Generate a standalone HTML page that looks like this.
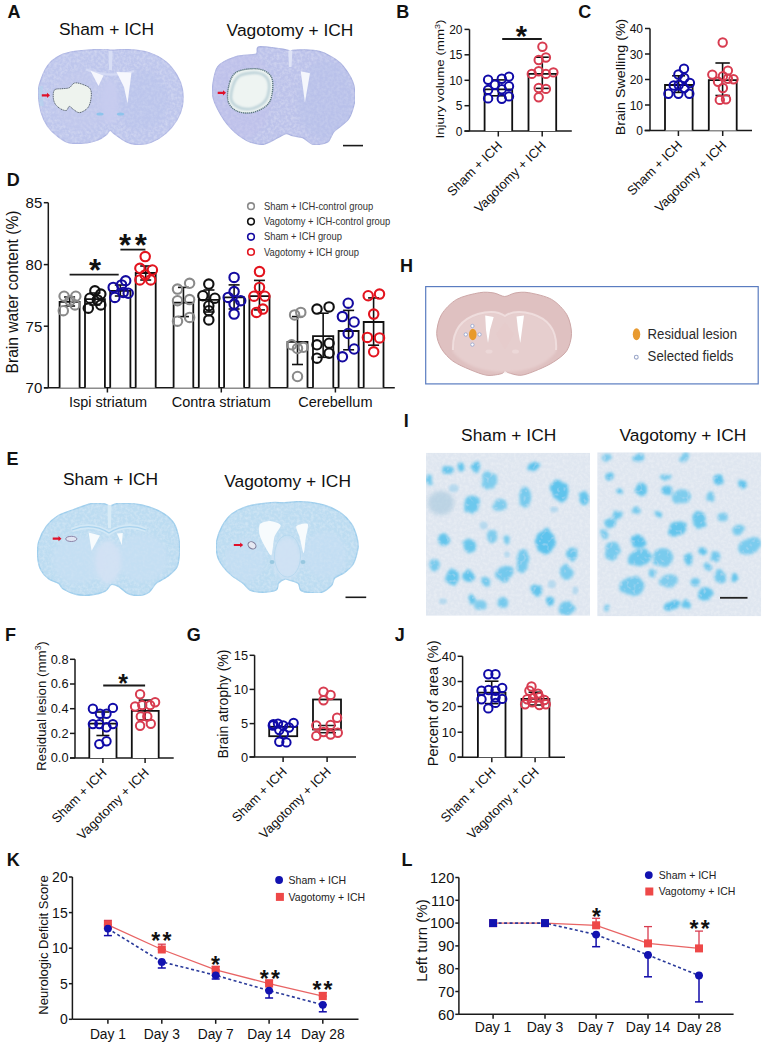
<!DOCTYPE html><html><head><meta charset="utf-8"><style>html,body{margin:0;padding:0;background:#fff;}svg{display:block;font-family:"Liberation Sans",sans-serif;}</style></head><body>
<svg width="769" height="1048" viewBox="0 0 769 1048">
<defs>
<filter id="tex" x="0" y="0" width="100%" height="100%"><feTurbulence type="fractalNoise" baseFrequency="0.35" numOctaves="2" seed="3" result="n"/><feColorMatrix in="n" type="matrix" values="0 0 0 0 1  0 0 0 0 1  0 0 0 0 1  0 0 0 -0.5 0.32" result="w"/><feComposite in="w" in2="SourceGraphic" operator="in" result="wn"/><feMerge><feMergeNode in="SourceGraphic"/><feMergeNode in="wn"/></feMerge></filter>
<filter id="blur1"><feGaussianBlur stdDeviation="1.2"/></filter>
<filter id="blur2"><feGaussianBlur stdDeviation="2"/></filter>
<filter id="blob" x="-5%" y="-5%" width="110%" height="110%"><feTurbulence type="fractalNoise" baseFrequency="0.12" numOctaves="2" seed="7" result="t"/><feDisplacementMap in="SourceGraphic" in2="t" scale="5" xChannelSelector="R" yChannelSelector="G" result="d"/><feGaussianBlur in="d" stdDeviation="1.5" result="b"/><feTurbulence type="fractalNoise" baseFrequency="0.3" numOctaves="1" seed="11" result="n"/><feColorMatrix in="n" type="matrix" values="0 0 0 0 1  0 0 0 0 1  0 0 0 0 1  0 0 0 -0.8 0.36" result="w"/><feComposite in="w" in2="b" operator="in" result="wn"/><feMerge><feMergeNode in="b"/><feMergeNode in="wn"/></feMerge></filter>
</defs>
<text x="7.5" y="18.3" font-size="18" text-anchor="start" fill="#111" font-weight="bold" >A</text>
<text x="396.2" y="18.4" font-size="18" text-anchor="start" fill="#111" font-weight="bold" >B</text>
<text x="578.3" y="18.1" font-size="18" text-anchor="start" fill="#111" font-weight="bold" >C</text>
<text x="6.8" y="186" font-size="18" text-anchor="start" fill="#111" font-weight="bold" >D</text>
<text x="6.6" y="465" font-size="18" text-anchor="start" fill="#111" font-weight="bold" >E</text>
<text x="5" y="641" font-size="18" text-anchor="start" fill="#111" font-weight="bold" >F</text>
<text x="186.8" y="641" font-size="18" text-anchor="start" fill="#111" font-weight="bold" >G</text>
<text x="400" y="272.2" font-size="18" text-anchor="start" fill="#111" font-weight="bold" >H</text>
<text x="403.8" y="426.5" font-size="18" text-anchor="start" fill="#111" font-weight="bold" >I</text>
<text x="394.8" y="640.7" font-size="18" text-anchor="start" fill="#111" font-weight="bold" >J</text>
<text x="6.8" y="866.4" font-size="18" text-anchor="start" fill="#111" font-weight="bold" >K</text>
<text x="401.5" y="866" font-size="18" text-anchor="start" fill="#111" font-weight="bold" >L</text>
<text x="106.5" y="35" font-size="17.4" text-anchor="middle" fill="#111" font-weight="normal" >Sham + ICH</text>
<text x="290" y="36" font-size="17.4" text-anchor="middle" fill="#111" font-weight="normal" >Vagotomy + ICH</text>
<text x="110.5" y="485.3" font-size="17.4" text-anchor="middle" fill="#111" font-weight="normal" >Sham + ICH</text>
<text x="287.6" y="486.8" font-size="17.4" text-anchor="middle" fill="#111" font-weight="normal" >Vagotomy + ICH</text>
<text x="508.7" y="440.8" font-size="17.4" text-anchor="middle" fill="#111" font-weight="normal" >Sham + ICH</text>
<text x="682.9" y="440.8" font-size="17.4" text-anchor="middle" fill="#111" font-weight="normal" >Vagotomy + ICH</text>
<line x1="469.5" y1="29.4" x2="469.5" y2="131.1" stroke="#1a1a1a" stroke-width="1.5"/>
<line x1="464.5" y1="131.1" x2="469.5" y2="131.1" stroke="#1a1a1a" stroke-width="1.5"/>
<text transform="translate(462.5 135.7) scale(1 1.12)" font-size="12" text-anchor="end" fill="#111">0</text>
<line x1="464.5" y1="105.7" x2="469.5" y2="105.7" stroke="#1a1a1a" stroke-width="1.5"/>
<text transform="translate(462.5 110.3) scale(1 1.12)" font-size="12" text-anchor="end" fill="#111">5</text>
<line x1="464.5" y1="80.3" x2="469.5" y2="80.3" stroke="#1a1a1a" stroke-width="1.5"/>
<text transform="translate(462.5 84.89999999999999) scale(1 1.12)" font-size="12" text-anchor="end" fill="#111">10</text>
<line x1="464.5" y1="54.8" x2="469.5" y2="54.8" stroke="#1a1a1a" stroke-width="1.5"/>
<text transform="translate(462.5 59.4) scale(1 1.12)" font-size="12" text-anchor="end" fill="#111">15</text>
<line x1="464.5" y1="29.4" x2="469.5" y2="29.4" stroke="#1a1a1a" stroke-width="1.5"/>
<text transform="translate(462.5 34.0) scale(1 1.12)" font-size="12" text-anchor="end" fill="#111">20</text>
<line x1="464.5" y1="131.1" x2="571.8" y2="131.1" stroke="#1a1a1a" stroke-width="1.5"/>
<line x1="498.3" y1="131.1" x2="498.3" y2="136.5" stroke="#1a1a1a" stroke-width="1.5"/>
<line x1="542.2" y1="131.1" x2="542.2" y2="136.5" stroke="#1a1a1a" stroke-width="1.5"/>
<path d="M484.6 131.1 V89.3 H512.2 V131.1" fill="#fff" stroke="#111" stroke-width="1.8"/>
<path d="M528.5 131.1 V73.9 H556.2 V131.1" fill="#fff" stroke="#111" stroke-width="1.8"/>
<line x1="498.4" y1="79.9" x2="498.4" y2="95.8" stroke="#111" stroke-width="1.6"/>
<line x1="491.9" y1="79.9" x2="504.9" y2="79.9" stroke="#111" stroke-width="1.6"/>
<line x1="491.9" y1="95.8" x2="504.9" y2="95.8" stroke="#111" stroke-width="1.6"/>
<line x1="542.3" y1="57.2" x2="542.3" y2="88.4" stroke="#111" stroke-width="1.6"/>
<line x1="535.8" y1="57.2" x2="548.8" y2="57.2" stroke="#111" stroke-width="1.6"/>
<line x1="535.8" y1="88.4" x2="548.8" y2="88.4" stroke="#111" stroke-width="1.6"/>
<line x1="502.2" y1="39" x2="541.8" y2="39" stroke="#1a1a1a" stroke-width="1.8"/>
<text x="521.5" y="46.209999999999994" font-size="29" text-anchor="middle" fill="#111" font-weight="bold">*</text>
<circle cx="488.1" cy="79.7" r="4.2" fill="none" stroke="#100aa8" stroke-width="2.0"/>
<circle cx="488.1" cy="89.9" r="4.2" fill="none" stroke="#100aa8" stroke-width="2.0"/>
<circle cx="488.1" cy="98.4" r="4.2" fill="none" stroke="#100aa8" stroke-width="2.0"/>
<circle cx="494.9" cy="84.7" r="4.2" fill="none" stroke="#100aa8" stroke-width="2.0"/>
<circle cx="501.8" cy="78.7" r="4.2" fill="none" stroke="#100aa8" stroke-width="2.0"/>
<circle cx="501.8" cy="89.3" r="4.2" fill="none" stroke="#100aa8" stroke-width="2.0"/>
<circle cx="501.8" cy="98.7" r="4.2" fill="none" stroke="#100aa8" stroke-width="2.0"/>
<circle cx="509.0" cy="76.6" r="4.2" fill="none" stroke="#100aa8" stroke-width="2.0"/>
<circle cx="509.0" cy="86.2" r="4.2" fill="none" stroke="#100aa8" stroke-width="2.0"/>
<circle cx="509.0" cy="96.4" r="4.2" fill="none" stroke="#100aa8" stroke-width="2.0"/>
<circle cx="542.4" cy="46.8" r="4.2" fill="none" stroke="#d83c50" stroke-width="2.0"/>
<circle cx="538.7" cy="60" r="4.2" fill="none" stroke="#d83c50" stroke-width="2.0"/>
<circle cx="545.9" cy="57.5" r="4.2" fill="none" stroke="#d83c50" stroke-width="2.0"/>
<circle cx="531.8" cy="73.9" r="4.2" fill="none" stroke="#d83c50" stroke-width="2.0"/>
<circle cx="538.7" cy="71.2" r="4.2" fill="none" stroke="#d83c50" stroke-width="2.0"/>
<circle cx="545.9" cy="73.9" r="4.2" fill="none" stroke="#d83c50" stroke-width="2.0"/>
<circle cx="553.4" cy="72.4" r="4.2" fill="none" stroke="#d83c50" stroke-width="2.0"/>
<circle cx="538.7" cy="88" r="4.2" fill="none" stroke="#d83c50" stroke-width="2.0"/>
<circle cx="545.9" cy="88.9" r="4.2" fill="none" stroke="#d83c50" stroke-width="2.0"/>
<circle cx="538.7" cy="97.2" r="4.2" fill="none" stroke="#d83c50" stroke-width="2.0"/>
<text transform="translate(444.3 79) rotate(-90) scale(1.13 1)" font-size="11.8" text-anchor="middle" fill="#111">Injury volume (mm<tspan dy="-4.5" font-size="8">3</tspan><tspan dy="4.5">)</tspan></text>
<text x="502.8" y="146.6" font-size="13" text-anchor="end" fill="#111" transform="rotate(-45 502.8 146.6)">Sham + ICH</text>
<text x="546.7" y="146.6" font-size="13" text-anchor="end" fill="#111" transform="rotate(-45 546.7 146.6)">Vagotomy + ICH</text>
<line x1="650" y1="28.5" x2="650" y2="130.5" stroke="#1a1a1a" stroke-width="1.5"/>
<line x1="645" y1="130.5" x2="650" y2="130.5" stroke="#1a1a1a" stroke-width="1.5"/>
<text transform="translate(643 135.1) scale(1 1.12)" font-size="12" text-anchor="end" fill="#111">0</text>
<line x1="645" y1="105" x2="650" y2="105" stroke="#1a1a1a" stroke-width="1.5"/>
<text transform="translate(643 109.6) scale(1 1.12)" font-size="12" text-anchor="end" fill="#111">10</text>
<line x1="645" y1="79.5" x2="650" y2="79.5" stroke="#1a1a1a" stroke-width="1.5"/>
<text transform="translate(643 84.1) scale(1 1.12)" font-size="12" text-anchor="end" fill="#111">20</text>
<line x1="645" y1="54" x2="650" y2="54" stroke="#1a1a1a" stroke-width="1.5"/>
<text transform="translate(643 58.6) scale(1 1.12)" font-size="12" text-anchor="end" fill="#111">30</text>
<line x1="645" y1="28.5" x2="650" y2="28.5" stroke="#1a1a1a" stroke-width="1.5"/>
<text transform="translate(643 33.1) scale(1 1.12)" font-size="12" text-anchor="end" fill="#111">40</text>
<line x1="644.5" y1="130.5" x2="752" y2="130.5" stroke="#1a1a1a" stroke-width="1.5"/>
<line x1="678.4" y1="130.5" x2="678.4" y2="136" stroke="#1a1a1a" stroke-width="1.5"/>
<line x1="722.7" y1="130.5" x2="722.7" y2="136" stroke="#1a1a1a" stroke-width="1.5"/>
<path d="M665 130.5 V85 H692.6 V130.5" fill="#fff" stroke="#111" stroke-width="1.8"/>
<path d="M708.8 130.5 V80.2 H736.7 V130.5" fill="#fff" stroke="#111" stroke-width="1.8"/>
<line x1="678.6" y1="75.8" x2="678.6" y2="92.4" stroke="#111" stroke-width="1.6"/>
<line x1="672.1" y1="75.8" x2="685.1" y2="75.8" stroke="#111" stroke-width="1.6"/>
<line x1="672.1" y1="92.4" x2="685.1" y2="92.4" stroke="#111" stroke-width="1.6"/>
<line x1="722.6" y1="63" x2="722.6" y2="95.5" stroke="#111" stroke-width="1.6"/>
<line x1="715.4" y1="63" x2="729.8000000000001" y2="63" stroke="#111" stroke-width="1.6"/>
<line x1="715.4" y1="95.5" x2="729.8000000000001" y2="95.5" stroke="#111" stroke-width="1.6"/>
<circle cx="668.4" cy="93.7" r="4.2" fill="none" stroke="#100aa8" stroke-width="2.0"/>
<circle cx="678.4" cy="93.7" r="4.2" fill="none" stroke="#100aa8" stroke-width="2.0"/>
<circle cx="689.3" cy="93.7" r="4.2" fill="none" stroke="#100aa8" stroke-width="2.0"/>
<circle cx="673.7" cy="85.5" r="4.2" fill="none" stroke="#100aa8" stroke-width="2.0"/>
<circle cx="684.3" cy="78" r="4.2" fill="none" stroke="#100aa8" stroke-width="2.0"/>
<circle cx="678.4" cy="74.5" r="4.2" fill="none" stroke="#100aa8" stroke-width="2.0"/>
<circle cx="684" cy="68.7" r="4.2" fill="none" stroke="#100aa8" stroke-width="2.0"/>
<circle cx="689.9" cy="83" r="4.2" fill="none" stroke="#100aa8" stroke-width="2.0"/>
<circle cx="684.3" cy="88" r="4.2" fill="none" stroke="#100aa8" stroke-width="2.0"/>
<circle cx="678.7" cy="85" r="4.2" fill="none" stroke="#100aa8" stroke-width="2.0"/>
<circle cx="722.7" cy="42.5" r="4.2" fill="none" stroke="#d83c50" stroke-width="2.0"/>
<circle cx="712.3" cy="74.6" r="4.2" fill="none" stroke="#d83c50" stroke-width="2.0"/>
<circle cx="727.9" cy="70.6" r="4.2" fill="none" stroke="#d83c50" stroke-width="2.0"/>
<circle cx="722.9" cy="76.2" r="4.2" fill="none" stroke="#d83c50" stroke-width="2.0"/>
<circle cx="718" cy="81.8" r="4.2" fill="none" stroke="#d83c50" stroke-width="2.0"/>
<circle cx="733.5" cy="79.3" r="4.2" fill="none" stroke="#d83c50" stroke-width="2.0"/>
<circle cx="727.9" cy="78.7" r="4.2" fill="none" stroke="#d83c50" stroke-width="2.0"/>
<circle cx="722.9" cy="88" r="4.2" fill="none" stroke="#d83c50" stroke-width="2.0"/>
<circle cx="719.8" cy="99.9" r="4.2" fill="none" stroke="#d83c50" stroke-width="2.0"/>
<circle cx="726" cy="99.3" r="4.2" fill="none" stroke="#d83c50" stroke-width="2.0"/>
<text transform="translate(624.8 77) rotate(-90) scale(1.1 1)" font-size="13" text-anchor="middle" fill="#111">Brain Swelling (%)</text>
<text x="682.9" y="146.0" font-size="13" text-anchor="end" fill="#111" transform="rotate(-45 682.9 146.0)">Sham + ICH</text>
<text x="727.2" y="146.0" font-size="13" text-anchor="end" fill="#111" transform="rotate(-45 727.2 146.0)">Vagotomy + ICH</text>
<line x1="48.3" y1="202.7" x2="48.3" y2="387.8" stroke="#1a1a1a" stroke-width="1.5"/>
<line x1="43.8" y1="387.8" x2="48.3" y2="387.8" stroke="#1a1a1a" stroke-width="1.5"/>
<text x="42.3" y="393.1" font-size="15" text-anchor="end" fill="#111" font-weight="normal" >70</text>
<line x1="43.8" y1="326.2" x2="48.3" y2="326.2" stroke="#1a1a1a" stroke-width="1.5"/>
<text x="42.3" y="331.5" font-size="15" text-anchor="end" fill="#111" font-weight="normal" >75</text>
<line x1="43.8" y1="264.6" x2="48.3" y2="264.6" stroke="#1a1a1a" stroke-width="1.5"/>
<text x="42.3" y="269.90000000000003" font-size="15" text-anchor="end" fill="#111" font-weight="normal" >80</text>
<line x1="43.8" y1="202.7" x2="48.3" y2="202.7" stroke="#1a1a1a" stroke-width="1.5"/>
<text x="42.3" y="208.0" font-size="15" text-anchor="end" fill="#111" font-weight="normal" >85</text>
<line x1="44" y1="387.8" x2="394.8" y2="387.8" stroke="#1a1a1a" stroke-width="1.5"/>
<line x1="107.4" y1="387.8" x2="107.4" y2="392.5" stroke="#1a1a1a" stroke-width="1.5"/>
<line x1="221.3" y1="387.8" x2="221.3" y2="392.5" stroke="#1a1a1a" stroke-width="1.5"/>
<line x1="335.4" y1="387.8" x2="335.4" y2="392.5" stroke="#1a1a1a" stroke-width="1.5"/>
<path d="M59.6 387.8 V301.9 H79.6 V387.8" fill="#fff" stroke="#111" stroke-width="1.8"/>
<line x1="69.6" y1="297" x2="69.6" y2="306" stroke="#111" stroke-width="1.6"/>
<line x1="64.1" y1="297" x2="75.1" y2="297" stroke="#111" stroke-width="1.6"/>
<line x1="64.1" y1="306" x2="75.1" y2="306" stroke="#111" stroke-width="1.6"/>
<path d="M85 387.8 V299.1 H104.9 V387.8" fill="#fff" stroke="#111" stroke-width="1.8"/>
<line x1="94.95" y1="293" x2="94.95" y2="305" stroke="#111" stroke-width="1.6"/>
<line x1="89.45" y1="293" x2="100.45" y2="293" stroke="#111" stroke-width="1.6"/>
<line x1="89.45" y1="305" x2="100.45" y2="305" stroke="#111" stroke-width="1.6"/>
<path d="M110.2 387.8 V290.8 H130.4 V387.8" fill="#fff" stroke="#111" stroke-width="1.8"/>
<line x1="120.30000000000001" y1="285" x2="120.30000000000001" y2="296" stroke="#111" stroke-width="1.6"/>
<line x1="114.80000000000001" y1="285" x2="125.80000000000001" y2="285" stroke="#111" stroke-width="1.6"/>
<line x1="114.80000000000001" y1="296" x2="125.80000000000001" y2="296" stroke="#111" stroke-width="1.6"/>
<path d="M135.7 387.8 V273 H155.7 V387.8" fill="#fff" stroke="#111" stroke-width="1.8"/>
<line x1="145.7" y1="266" x2="145.7" y2="280" stroke="#111" stroke-width="1.6"/>
<line x1="140.2" y1="266" x2="151.2" y2="266" stroke="#111" stroke-width="1.6"/>
<line x1="140.2" y1="280" x2="151.2" y2="280" stroke="#111" stroke-width="1.6"/>
<path d="M173.6 387.8 V302.7 H193.3 V387.8" fill="#fff" stroke="#111" stroke-width="1.8"/>
<line x1="183.45" y1="287.4" x2="183.45" y2="316.6" stroke="#111" stroke-width="1.6"/>
<line x1="177.95" y1="287.4" x2="188.95" y2="287.4" stroke="#111" stroke-width="1.6"/>
<line x1="177.95" y1="316.6" x2="188.95" y2="316.6" stroke="#111" stroke-width="1.6"/>
<path d="M198.8 387.8 V299.9 H219.1 V387.8" fill="#fff" stroke="#111" stroke-width="1.8"/>
<line x1="208.95" y1="290" x2="208.95" y2="312" stroke="#111" stroke-width="1.6"/>
<line x1="203.45" y1="290" x2="214.45" y2="290" stroke="#111" stroke-width="1.6"/>
<line x1="203.45" y1="312" x2="214.45" y2="312" stroke="#111" stroke-width="1.6"/>
<path d="M224.1 387.8 V297.4 H244.1 V387.8" fill="#fff" stroke="#111" stroke-width="1.8"/>
<line x1="234.1" y1="284.9" x2="234.1" y2="309" stroke="#111" stroke-width="1.6"/>
<line x1="228.6" y1="284.9" x2="239.6" y2="284.9" stroke="#111" stroke-width="1.6"/>
<line x1="228.6" y1="309" x2="239.6" y2="309" stroke="#111" stroke-width="1.6"/>
<path d="M249.4 387.8 V296.2 H269.5 V387.8" fill="#fff" stroke="#111" stroke-width="1.8"/>
<line x1="259.45" y1="280.4" x2="259.45" y2="309.9" stroke="#111" stroke-width="1.6"/>
<line x1="253.95" y1="280.4" x2="264.95" y2="280.4" stroke="#111" stroke-width="1.6"/>
<line x1="253.95" y1="309.9" x2="264.95" y2="309.9" stroke="#111" stroke-width="1.6"/>
<path d="M287.5 387.8 V341.8 H307.5 V387.8" fill="#fff" stroke="#111" stroke-width="1.8"/>
<line x1="297.5" y1="316.6" x2="297.5" y2="364.5" stroke="#111" stroke-width="1.6"/>
<line x1="292.0" y1="316.6" x2="303.0" y2="316.6" stroke="#111" stroke-width="1.6"/>
<line x1="292.0" y1="364.5" x2="303.0" y2="364.5" stroke="#111" stroke-width="1.6"/>
<path d="M313 387.8 V336.2 H333.3 V387.8" fill="#fff" stroke="#111" stroke-width="1.8"/>
<line x1="323.15" y1="313.2" x2="323.15" y2="357.3" stroke="#111" stroke-width="1.6"/>
<line x1="317.65" y1="313.2" x2="328.65" y2="313.2" stroke="#111" stroke-width="1.6"/>
<line x1="317.65" y1="357.3" x2="328.65" y2="357.3" stroke="#111" stroke-width="1.6"/>
<path d="M338.6 387.8 V331 H358.6 V387.8" fill="#fff" stroke="#111" stroke-width="1.8"/>
<line x1="348.6" y1="310.4" x2="348.6" y2="349.8" stroke="#111" stroke-width="1.6"/>
<line x1="343.1" y1="310.4" x2="354.1" y2="310.4" stroke="#111" stroke-width="1.6"/>
<line x1="343.1" y1="349.8" x2="354.1" y2="349.8" stroke="#111" stroke-width="1.6"/>
<path d="M363.7 387.8 V322 H383.5 V387.8" fill="#fff" stroke="#111" stroke-width="1.8"/>
<line x1="373.6" y1="297.9" x2="373.6" y2="345.2" stroke="#111" stroke-width="1.6"/>
<line x1="368.1" y1="297.9" x2="379.1" y2="297.9" stroke="#111" stroke-width="1.6"/>
<line x1="368.1" y1="345.2" x2="379.1" y2="345.2" stroke="#111" stroke-width="1.6"/>
<circle cx="64.1" cy="296.2" r="4.7" fill="none" stroke="#8a8a8a" stroke-width="2.1"/>
<circle cx="75.8" cy="296.2" r="4.7" fill="none" stroke="#8a8a8a" stroke-width="2.1"/>
<circle cx="70" cy="300.7" r="4.7" fill="none" stroke="#8a8a8a" stroke-width="2.1"/>
<circle cx="75" cy="304.9" r="4.7" fill="none" stroke="#8a8a8a" stroke-width="2.1"/>
<circle cx="63.3" cy="310.7" r="4.7" fill="none" stroke="#8a8a8a" stroke-width="2.1"/>
<circle cx="94.9" cy="290.8" r="4.7" fill="none" stroke="#111" stroke-width="2.1"/>
<circle cx="100.8" cy="294.1" r="4.7" fill="none" stroke="#111" stroke-width="2.1"/>
<circle cx="89.9" cy="298.2" r="4.7" fill="none" stroke="#111" stroke-width="2.1"/>
<circle cx="97.4" cy="299.9" r="4.7" fill="none" stroke="#111" stroke-width="2.1"/>
<circle cx="88.3" cy="308.2" r="4.7" fill="none" stroke="#111" stroke-width="2.1"/>
<circle cx="100.8" cy="304.9" r="4.7" fill="none" stroke="#111" stroke-width="2.1"/>
<circle cx="125.7" cy="280.8" r="4.7" fill="none" stroke="#140aa0" stroke-width="2.1"/>
<circle cx="113.2" cy="287.4" r="4.7" fill="none" stroke="#140aa0" stroke-width="2.1"/>
<circle cx="121.6" cy="284.9" r="4.7" fill="none" stroke="#140aa0" stroke-width="2.1"/>
<circle cx="128.2" cy="293.2" r="4.7" fill="none" stroke="#140aa0" stroke-width="2.1"/>
<circle cx="114.9" cy="297.4" r="4.7" fill="none" stroke="#140aa0" stroke-width="2.1"/>
<circle cx="123.2" cy="292.4" r="4.7" fill="none" stroke="#140aa0" stroke-width="2.1"/>
<circle cx="145.2" cy="256.6" r="4.7" fill="none" stroke="#e3141e" stroke-width="2.1"/>
<circle cx="139.9" cy="268.3" r="4.7" fill="none" stroke="#e3141e" stroke-width="2.1"/>
<circle cx="152.4" cy="270" r="4.7" fill="none" stroke="#e3141e" stroke-width="2.1"/>
<circle cx="139.9" cy="279.9" r="4.7" fill="none" stroke="#e3141e" stroke-width="2.1"/>
<circle cx="150.7" cy="279.9" r="4.7" fill="none" stroke="#e3141e" stroke-width="2.1"/>
<circle cx="145.2" cy="274.9" r="4.7" fill="none" stroke="#e3141e" stroke-width="2.1"/>
<circle cx="177.5" cy="289.1" r="4.7" fill="none" stroke="#8a8a8a" stroke-width="2.1"/>
<circle cx="189.6" cy="283.3" r="4.7" fill="none" stroke="#8a8a8a" stroke-width="2.1"/>
<circle cx="177.5" cy="300.7" r="4.7" fill="none" stroke="#8a8a8a" stroke-width="2.1"/>
<circle cx="189.6" cy="299.6" r="4.7" fill="none" stroke="#8a8a8a" stroke-width="2.1"/>
<circle cx="177.5" cy="321.2" r="4.7" fill="none" stroke="#8a8a8a" stroke-width="2.1"/>
<circle cx="189.6" cy="317.4" r="4.7" fill="none" stroke="#8a8a8a" stroke-width="2.1"/>
<circle cx="208.8" cy="284.1" r="4.7" fill="none" stroke="#111" stroke-width="2.1"/>
<circle cx="202.9" cy="295.7" r="4.7" fill="none" stroke="#111" stroke-width="2.1"/>
<circle cx="214.9" cy="298.2" r="4.7" fill="none" stroke="#111" stroke-width="2.1"/>
<circle cx="208.8" cy="305.7" r="4.7" fill="none" stroke="#111" stroke-width="2.1"/>
<circle cx="208.8" cy="310.7" r="4.7" fill="none" stroke="#111" stroke-width="2.1"/>
<circle cx="208.8" cy="319.9" r="4.7" fill="none" stroke="#111" stroke-width="2.1"/>
<circle cx="234.1" cy="277.4" r="4.7" fill="none" stroke="#140aa0" stroke-width="2.1"/>
<circle cx="234.1" cy="291.6" r="4.7" fill="none" stroke="#140aa0" stroke-width="2.1"/>
<circle cx="228.2" cy="297.4" r="4.7" fill="none" stroke="#140aa0" stroke-width="2.1"/>
<circle cx="240.7" cy="300.7" r="4.7" fill="none" stroke="#140aa0" stroke-width="2.1"/>
<circle cx="234.1" cy="304.1" r="4.7" fill="none" stroke="#140aa0" stroke-width="2.1"/>
<circle cx="234.1" cy="314.1" r="4.7" fill="none" stroke="#140aa0" stroke-width="2.1"/>
<circle cx="259.5" cy="271.6" r="4.7" fill="none" stroke="#e3141e" stroke-width="2.1"/>
<circle cx="259.5" cy="287.4" r="4.7" fill="none" stroke="#e3141e" stroke-width="2.1"/>
<circle cx="254" cy="296.2" r="4.7" fill="none" stroke="#e3141e" stroke-width="2.1"/>
<circle cx="264.9" cy="296.2" r="4.7" fill="none" stroke="#e3141e" stroke-width="2.1"/>
<circle cx="262.9" cy="309.1" r="4.7" fill="none" stroke="#e3141e" stroke-width="2.1"/>
<circle cx="256.5" cy="312.4" r="4.7" fill="none" stroke="#e3141e" stroke-width="2.1"/>
<circle cx="294.6" cy="314.9" r="4.7" fill="none" stroke="#8a8a8a" stroke-width="2.1"/>
<circle cx="300.8" cy="312.4" r="4.7" fill="none" stroke="#8a8a8a" stroke-width="2.1"/>
<circle cx="291.7" cy="344.8" r="4.7" fill="none" stroke="#8a8a8a" stroke-width="2.1"/>
<circle cx="297.5" cy="348.5" r="4.7" fill="none" stroke="#8a8a8a" stroke-width="2.1"/>
<circle cx="303.3" cy="347.3" r="4.7" fill="none" stroke="#8a8a8a" stroke-width="2.1"/>
<circle cx="297.5" cy="376.5" r="4.7" fill="none" stroke="#8a8a8a" stroke-width="2.1"/>
<circle cx="317" cy="309.1" r="4.7" fill="none" stroke="#111" stroke-width="2.1"/>
<circle cx="329.1" cy="306.9" r="4.7" fill="none" stroke="#111" stroke-width="2.1"/>
<circle cx="317" cy="344.8" r="4.7" fill="none" stroke="#111" stroke-width="2.1"/>
<circle cx="329.1" cy="343.2" r="4.7" fill="none" stroke="#111" stroke-width="2.1"/>
<circle cx="329.1" cy="353.2" r="4.7" fill="none" stroke="#111" stroke-width="2.1"/>
<circle cx="317" cy="358.2" r="4.7" fill="none" stroke="#111" stroke-width="2.1"/>
<circle cx="348.2" cy="303.2" r="4.7" fill="none" stroke="#140aa0" stroke-width="2.1"/>
<circle cx="342.4" cy="316.6" r="4.7" fill="none" stroke="#140aa0" stroke-width="2.1"/>
<circle cx="354.1" cy="322" r="4.7" fill="none" stroke="#140aa0" stroke-width="2.1"/>
<circle cx="348.2" cy="333.5" r="4.7" fill="none" stroke="#140aa0" stroke-width="2.1"/>
<circle cx="354.1" cy="349" r="4.7" fill="none" stroke="#140aa0" stroke-width="2.1"/>
<circle cx="342.4" cy="356.8" r="4.7" fill="none" stroke="#140aa0" stroke-width="2.1"/>
<circle cx="368.2" cy="295.7" r="4.7" fill="none" stroke="#e3141e" stroke-width="2.1"/>
<circle cx="379.5" cy="294.1" r="4.7" fill="none" stroke="#e3141e" stroke-width="2.1"/>
<circle cx="373.7" cy="314.1" r="4.7" fill="none" stroke="#e3141e" stroke-width="2.1"/>
<circle cx="367.4" cy="337.4" r="4.7" fill="none" stroke="#e3141e" stroke-width="2.1"/>
<circle cx="379.5" cy="337.9" r="4.7" fill="none" stroke="#e3141e" stroke-width="2.1"/>
<circle cx="373.7" cy="351.8" r="4.7" fill="none" stroke="#e3141e" stroke-width="2.1"/>
<line x1="69.6" y1="274.6" x2="118.7" y2="274.6" stroke="#1a1a1a" stroke-width="1.8"/>
<text x="95" y="280.69" font-size="31" text-anchor="middle" fill="#111" font-weight="bold">*</text>
<line x1="120.4" y1="249.6" x2="145.4" y2="249.6" stroke="#1a1a1a" stroke-width="1.8"/>
<text x="125.1" y="255.58999999999997" font-size="31" text-anchor="middle" fill="#111" font-weight="bold">*</text>
<text x="140.7" y="255.58999999999997" font-size="31" text-anchor="middle" fill="#111" font-weight="bold">*</text>
<text x="17.8" y="292" font-size="15.6" text-anchor="middle" fill="#111" transform="rotate(-90 17.8 292)" >Brain water content (%)</text>
<text x="108" y="406.5" font-size="14.5" text-anchor="middle" fill="#111" font-weight="normal" >Ispi striatum</text>
<text x="221.3" y="406.5" font-size="14.5" text-anchor="middle" fill="#111" font-weight="normal" >Contra striatum</text>
<text x="335.4" y="406.5" font-size="14.5" text-anchor="middle" fill="#111" font-weight="normal" >Cerebellum</text>
<circle cx="251" cy="206.2" r="3.3" fill="none" stroke="#8a8a8a" stroke-width="1.6"/>
<text transform="translate(263.9 209.7) scale(1 1.13)" font-size="9.4" fill="#333">Sham + ICH-control group</text>
<circle cx="251" cy="221.6" r="3.3" fill="none" stroke="#111" stroke-width="1.6"/>
<text transform="translate(263.9 225.1) scale(1 1.13)" font-size="9.4" fill="#333">Vagotomy + ICH-control group</text>
<circle cx="251" cy="236.8" r="3.3" fill="none" stroke="#140aa0" stroke-width="1.6"/>
<text transform="translate(263.9 240.3) scale(1 1.13)" font-size="9.4" fill="#333">Sham + ICH group</text>
<circle cx="251" cy="252" r="3.3" fill="none" stroke="#e3141e" stroke-width="1.6"/>
<text transform="translate(263.9 255.5) scale(1 1.13)" font-size="9.4" fill="#333">Vagotomy + ICH group</text>
<line x1="75" y1="659.3" x2="75" y2="758" stroke="#1a1a1a" stroke-width="1.5"/>
<line x1="70" y1="758" x2="75" y2="758" stroke="#1a1a1a" stroke-width="1.5"/>
<text x="68.5" y="762.3" font-size="12.8" text-anchor="end" fill="#111" font-weight="normal" >0.0</text>
<line x1="70" y1="733.4" x2="75" y2="733.4" stroke="#1a1a1a" stroke-width="1.5"/>
<text x="68.5" y="737.6999999999999" font-size="12.8" text-anchor="end" fill="#111" font-weight="normal" >0.2</text>
<line x1="70" y1="708.7" x2="75" y2="708.7" stroke="#1a1a1a" stroke-width="1.5"/>
<text x="68.5" y="713.0" font-size="12.8" text-anchor="end" fill="#111" font-weight="normal" >0.4</text>
<line x1="70" y1="684" x2="75" y2="684" stroke="#1a1a1a" stroke-width="1.5"/>
<text x="68.5" y="688.3" font-size="12.8" text-anchor="end" fill="#111" font-weight="normal" >0.6</text>
<line x1="70" y1="659.3" x2="75" y2="659.3" stroke="#1a1a1a" stroke-width="1.5"/>
<text x="68.5" y="663.5999999999999" font-size="12.8" text-anchor="end" fill="#111" font-weight="normal" >0.8</text>
<line x1="70" y1="758" x2="173.7" y2="758" stroke="#1a1a1a" stroke-width="1.5"/>
<line x1="102.9" y1="758" x2="102.9" y2="763" stroke="#1a1a1a" stroke-width="1.5"/>
<line x1="145.1" y1="758" x2="145.1" y2="763" stroke="#1a1a1a" stroke-width="1.5"/>
<path d="M89.3 758 V723.7 H116.5 V758" fill="#fff" stroke="#111" stroke-width="1.8"/>
<path d="M131.8 758 V710.8 H158.7 V758" fill="#fff" stroke="#111" stroke-width="1.8"/>
<line x1="102.9" y1="712" x2="102.9" y2="735.5" stroke="#111" stroke-width="1.6"/>
<line x1="96.4" y1="712" x2="109.4" y2="712" stroke="#111" stroke-width="1.6"/>
<line x1="96.4" y1="735.5" x2="109.4" y2="735.5" stroke="#111" stroke-width="1.6"/>
<line x1="145.2" y1="700.1" x2="145.2" y2="720" stroke="#111" stroke-width="1.6"/>
<line x1="138.7" y1="700.1" x2="151.7" y2="700.1" stroke="#111" stroke-width="1.6"/>
<line x1="138.7" y1="720" x2="151.7" y2="720" stroke="#111" stroke-width="1.6"/>
<circle cx="92.9" cy="708.7" r="4.2" fill="none" stroke="#100aa8" stroke-width="2.0"/>
<circle cx="112.9" cy="707.9" r="4.2" fill="none" stroke="#100aa8" stroke-width="2.0"/>
<circle cx="100" cy="713.7" r="4.2" fill="none" stroke="#100aa8" stroke-width="2.0"/>
<circle cx="106.5" cy="713.7" r="4.2" fill="none" stroke="#100aa8" stroke-width="2.0"/>
<circle cx="92.9" cy="724.1" r="4.2" fill="none" stroke="#100aa8" stroke-width="2.0"/>
<circle cx="99.3" cy="724.1" r="4.2" fill="none" stroke="#100aa8" stroke-width="2.0"/>
<circle cx="106.5" cy="727.3" r="4.2" fill="none" stroke="#100aa8" stroke-width="2.0"/>
<circle cx="112.9" cy="724.1" r="4.2" fill="none" stroke="#100aa8" stroke-width="2.0"/>
<circle cx="99.3" cy="744.1" r="4.2" fill="none" stroke="#100aa8" stroke-width="2.0"/>
<circle cx="106.5" cy="741.3" r="4.2" fill="none" stroke="#100aa8" stroke-width="2.0"/>
<circle cx="140.1" cy="694.3" r="4.2" fill="none" stroke="#d83c50" stroke-width="2.0"/>
<circle cx="135.1" cy="706.5" r="4.2" fill="none" stroke="#d83c50" stroke-width="2.0"/>
<circle cx="142.2" cy="705.1" r="4.2" fill="none" stroke="#d83c50" stroke-width="2.0"/>
<circle cx="155.1" cy="702.2" r="4.2" fill="none" stroke="#d83c50" stroke-width="2.0"/>
<circle cx="150.1" cy="705.1" r="4.2" fill="none" stroke="#d83c50" stroke-width="2.0"/>
<circle cx="140.8" cy="716.5" r="4.2" fill="none" stroke="#d83c50" stroke-width="2.0"/>
<circle cx="147.3" cy="716.5" r="4.2" fill="none" stroke="#d83c50" stroke-width="2.0"/>
<circle cx="140.1" cy="725.8" r="4.2" fill="none" stroke="#d83c50" stroke-width="2.0"/>
<circle cx="150.8" cy="723.7" r="4.2" fill="none" stroke="#d83c50" stroke-width="2.0"/>
<line x1="103.2" y1="685.5" x2="145.1" y2="685.5" stroke="#1a1a1a" stroke-width="1.8"/>
<text x="123.2" y="691.55" font-size="25" text-anchor="middle" fill="#111" font-weight="bold">*</text>
<text x="46.2" y="706" font-size="13.3" text-anchor="middle" fill="#111" transform="rotate(-90 46.2 706)" >Residual lesion (mm<tspan dy="-5" font-size="8.5">3</tspan><tspan dy="5">)</tspan></text>
<text x="107.4" y="773.5" font-size="13" text-anchor="end" fill="#111" transform="rotate(-45 107.4 773.5)">Sham + ICH</text>
<text x="149.6" y="773.5" font-size="13" text-anchor="end" fill="#111" transform="rotate(-45 149.6 773.5)">Vagotomy + ICH</text>
<line x1="254.6" y1="655.3" x2="254.6" y2="757" stroke="#1a1a1a" stroke-width="1.5"/>
<line x1="249.6" y1="757" x2="254.6" y2="757" stroke="#1a1a1a" stroke-width="1.5"/>
<text x="248.1" y="761.5" font-size="12.8" text-anchor="end" fill="#111" font-weight="normal" >0</text>
<line x1="249.6" y1="723.6" x2="254.6" y2="723.6" stroke="#1a1a1a" stroke-width="1.5"/>
<text x="248.1" y="728.1" font-size="12.8" text-anchor="end" fill="#111" font-weight="normal" >5</text>
<line x1="249.6" y1="689.4" x2="254.6" y2="689.4" stroke="#1a1a1a" stroke-width="1.5"/>
<text x="248.1" y="693.9" font-size="12.8" text-anchor="end" fill="#111" font-weight="normal" >10</text>
<line x1="249.6" y1="655.3" x2="254.6" y2="655.3" stroke="#1a1a1a" stroke-width="1.5"/>
<text x="248.1" y="659.8" font-size="12.8" text-anchor="end" fill="#111" font-weight="normal" >15</text>
<line x1="249.5" y1="757" x2="356" y2="757" stroke="#1a1a1a" stroke-width="1.5"/>
<line x1="283.1" y1="757" x2="283.1" y2="762" stroke="#1a1a1a" stroke-width="1.5"/>
<line x1="327.1" y1="757" x2="327.1" y2="762" stroke="#1a1a1a" stroke-width="1.5"/>
<rect x="269.2" y="726.8" width="28" height="9.4" fill="#fff" stroke="#111" stroke-width="1.8"/>
<rect x="313" y="699.5" width="28" height="30" fill="#fff" stroke="#111" stroke-width="1.8"/>
<line x1="318" y1="725.5" x2="336" y2="725.5" stroke="#1a1a1a" stroke-width="1.5"/>
<line x1="318" y1="732.7" x2="336" y2="732.7" stroke="#1a1a1a" stroke-width="1.5"/>
<circle cx="273.4" cy="724.2" r="4.2" fill="none" stroke="#100aa8" stroke-width="2.0"/>
<circle cx="278" cy="723.6" r="4.2" fill="none" stroke="#100aa8" stroke-width="2.0"/>
<circle cx="293.6" cy="722.9" r="4.2" fill="none" stroke="#100aa8" stroke-width="2.0"/>
<circle cx="283.2" cy="725.5" r="4.2" fill="none" stroke="#100aa8" stroke-width="2.0"/>
<circle cx="289" cy="727.5" r="4.2" fill="none" stroke="#100aa8" stroke-width="2.0"/>
<circle cx="279.3" cy="730" r="4.2" fill="none" stroke="#100aa8" stroke-width="2.0"/>
<circle cx="283.8" cy="734" r="4.2" fill="none" stroke="#100aa8" stroke-width="2.0"/>
<circle cx="279.3" cy="741.8" r="4.2" fill="none" stroke="#100aa8" stroke-width="2.0"/>
<circle cx="286.4" cy="742.4" r="4.2" fill="none" stroke="#100aa8" stroke-width="2.0"/>
<circle cx="272.8" cy="725.5" r="4.2" fill="none" stroke="#100aa8" stroke-width="2.0"/>
<circle cx="323.5" cy="691.7" r="4.2" fill="none" stroke="#d83c50" stroke-width="2.0"/>
<circle cx="330.6" cy="695" r="4.2" fill="none" stroke="#d83c50" stroke-width="2.0"/>
<circle cx="323.5" cy="700.2" r="4.2" fill="none" stroke="#d83c50" stroke-width="2.0"/>
<circle cx="337.1" cy="717.7" r="4.2" fill="none" stroke="#d83c50" stroke-width="2.0"/>
<circle cx="316.3" cy="725.5" r="4.2" fill="none" stroke="#d83c50" stroke-width="2.0"/>
<circle cx="330.6" cy="724.9" r="4.2" fill="none" stroke="#d83c50" stroke-width="2.0"/>
<circle cx="323.5" cy="732" r="4.2" fill="none" stroke="#d83c50" stroke-width="2.0"/>
<circle cx="330.6" cy="734.6" r="4.2" fill="none" stroke="#d83c50" stroke-width="2.0"/>
<circle cx="316.3" cy="735.9" r="4.2" fill="none" stroke="#d83c50" stroke-width="2.0"/>
<circle cx="337.8" cy="732.7" r="4.2" fill="none" stroke="#d83c50" stroke-width="2.0"/>
<text x="228.2" y="704" font-size="14" text-anchor="middle" fill="#111" transform="rotate(-90 228.2 704)" >Brain atrophy (%)</text>
<text x="287.6" y="772.5" font-size="13" text-anchor="end" fill="#111" transform="rotate(-45 287.6 772.5)">Sham + ICH</text>
<text x="331.6" y="772.5" font-size="13" text-anchor="end" fill="#111" transform="rotate(-45 331.6 772.5)">Vagotomy + ICH</text>
<line x1="462.6" y1="656.3" x2="462.6" y2="757.3" stroke="#1a1a1a" stroke-width="1.5"/>
<line x1="457.6" y1="757.3" x2="462.6" y2="757.3" stroke="#1a1a1a" stroke-width="1.5"/>
<text x="456.1" y="761.8" font-size="12.8" text-anchor="end" fill="#111" font-weight="normal" >0</text>
<line x1="457.6" y1="732.2" x2="462.6" y2="732.2" stroke="#1a1a1a" stroke-width="1.5"/>
<text x="456.1" y="736.7" font-size="12.8" text-anchor="end" fill="#111" font-weight="normal" >10</text>
<line x1="457.6" y1="706.5" x2="462.6" y2="706.5" stroke="#1a1a1a" stroke-width="1.5"/>
<text x="456.1" y="711.0" font-size="12.8" text-anchor="end" fill="#111" font-weight="normal" >20</text>
<line x1="457.6" y1="681.5" x2="462.6" y2="681.5" stroke="#1a1a1a" stroke-width="1.5"/>
<text x="456.1" y="686.0" font-size="12.8" text-anchor="end" fill="#111" font-weight="normal" >30</text>
<line x1="457.6" y1="656.3" x2="462.6" y2="656.3" stroke="#1a1a1a" stroke-width="1.5"/>
<text x="456.1" y="660.8" font-size="12.8" text-anchor="end" fill="#111" font-weight="normal" >40</text>
<line x1="457.5" y1="757.3" x2="565" y2="757.3" stroke="#1a1a1a" stroke-width="1.5"/>
<line x1="491.8" y1="757.3" x2="491.8" y2="762.3" stroke="#1a1a1a" stroke-width="1.5"/>
<line x1="535.1" y1="757.3" x2="535.1" y2="762.3" stroke="#1a1a1a" stroke-width="1.5"/>
<path d="M477.9 757.3 V692.6 H505.5 V757.3" fill="#fff" stroke="#111" stroke-width="1.8"/>
<path d="M521.5 757.3 V698.9 H549.4 V757.3" fill="#fff" stroke="#111" stroke-width="1.8"/>
<line x1="491.7" y1="681.2" x2="491.7" y2="703.6" stroke="#111" stroke-width="1.6"/>
<line x1="484.9" y1="681.2" x2="498.5" y2="681.2" stroke="#111" stroke-width="1.6"/>
<line x1="484.9" y1="703.6" x2="498.5" y2="703.6" stroke="#111" stroke-width="1.6"/>
<line x1="535.4" y1="692.2" x2="535.4" y2="705" stroke="#111" stroke-width="1.6"/>
<line x1="528.6" y1="692.2" x2="542.1999999999999" y2="692.2" stroke="#111" stroke-width="1.6"/>
<line x1="528.6" y1="705" x2="542.1999999999999" y2="705" stroke="#111" stroke-width="1.6"/>
<circle cx="488.3" cy="674.3" r="4.2" fill="none" stroke="#100aa8" stroke-width="2.0"/>
<circle cx="495.5" cy="674.3" r="4.2" fill="none" stroke="#100aa8" stroke-width="2.0"/>
<circle cx="481.5" cy="690.8" r="4.2" fill="none" stroke="#100aa8" stroke-width="2.0"/>
<circle cx="488.6" cy="690" r="4.2" fill="none" stroke="#100aa8" stroke-width="2.0"/>
<circle cx="495.5" cy="690.8" r="4.2" fill="none" stroke="#100aa8" stroke-width="2.0"/>
<circle cx="502.2" cy="687.9" r="4.2" fill="none" stroke="#100aa8" stroke-width="2.0"/>
<circle cx="481.5" cy="699.3" r="4.2" fill="none" stroke="#100aa8" stroke-width="2.0"/>
<circle cx="495.5" cy="697.5" r="4.2" fill="none" stroke="#100aa8" stroke-width="2.0"/>
<circle cx="502.2" cy="698.9" r="4.2" fill="none" stroke="#100aa8" stroke-width="2.0"/>
<circle cx="495.5" cy="702.9" r="4.2" fill="none" stroke="#100aa8" stroke-width="2.0"/>
<circle cx="488.3" cy="708.4" r="4.2" fill="none" stroke="#100aa8" stroke-width="2.0"/>
<circle cx="531.5" cy="686.5" r="4.2" fill="none" stroke="#d83c50" stroke-width="2.0"/>
<circle cx="529.4" cy="690.8" r="4.2" fill="none" stroke="#d83c50" stroke-width="2.0"/>
<circle cx="538" cy="693.6" r="4.2" fill="none" stroke="#d83c50" stroke-width="2.0"/>
<circle cx="527.2" cy="699.3" r="4.2" fill="none" stroke="#d83c50" stroke-width="2.0"/>
<circle cx="533" cy="697.9" r="4.2" fill="none" stroke="#d83c50" stroke-width="2.0"/>
<circle cx="539.4" cy="697.2" r="4.2" fill="none" stroke="#d83c50" stroke-width="2.0"/>
<circle cx="525.1" cy="704.3" r="4.2" fill="none" stroke="#d83c50" stroke-width="2.0"/>
<circle cx="532.2" cy="702.2" r="4.2" fill="none" stroke="#d83c50" stroke-width="2.0"/>
<circle cx="539.4" cy="705.1" r="4.2" fill="none" stroke="#d83c50" stroke-width="2.0"/>
<circle cx="545.8" cy="704.3" r="4.2" fill="none" stroke="#d83c50" stroke-width="2.0"/>
<circle cx="544.4" cy="700" r="4.2" fill="none" stroke="#d83c50" stroke-width="2.0"/>
<text x="438.3" y="703.3" font-size="14.5" text-anchor="middle" fill="#111" transform="rotate(-90 438.3 703.3)" >Percent of area (%)</text>
<text x="496.3" y="772.8" font-size="13" text-anchor="end" fill="#111" transform="rotate(-45 496.3 772.8)">Sham + ICH</text>
<text x="539.6" y="772.8" font-size="13" text-anchor="end" fill="#111" transform="rotate(-45 539.6 772.8)">Vagotomy + ICH</text>
<line x1="72.4" y1="877" x2="72.4" y2="1019.3" stroke="#1a1a1a" stroke-width="1.5"/>
<line x1="68.9" y1="1019.3" x2="72.4" y2="1019.3" stroke="#1a1a1a" stroke-width="1.5"/>
<text x="67.7" y="1024.3" font-size="14" text-anchor="end" fill="#111" font-weight="normal" >0</text>
<line x1="68.9" y1="983.7" x2="72.4" y2="983.7" stroke="#1a1a1a" stroke-width="1.5"/>
<text x="67.7" y="988.7" font-size="14" text-anchor="end" fill="#111" font-weight="normal" >5</text>
<line x1="68.9" y1="948.2" x2="72.4" y2="948.2" stroke="#1a1a1a" stroke-width="1.5"/>
<text x="67.7" y="953.2" font-size="14" text-anchor="end" fill="#111" font-weight="normal" >10</text>
<line x1="68.9" y1="912.6" x2="72.4" y2="912.6" stroke="#1a1a1a" stroke-width="1.5"/>
<text x="67.7" y="917.6" font-size="14" text-anchor="end" fill="#111" font-weight="normal" >15</text>
<line x1="68.9" y1="877" x2="72.4" y2="877" stroke="#1a1a1a" stroke-width="1.5"/>
<text x="67.7" y="882" font-size="14" text-anchor="end" fill="#111" font-weight="normal" >20</text>
<line x1="72.4" y1="1019.3" x2="358.5" y2="1019.3" stroke="#1a1a1a" stroke-width="1.5"/>
<line x1="107.9" y1="1019.3" x2="107.9" y2="1023.8" stroke="#1a1a1a" stroke-width="1.5"/>
<line x1="161.8" y1="1019.3" x2="161.8" y2="1023.8" stroke="#1a1a1a" stroke-width="1.5"/>
<line x1="215.7" y1="1019.3" x2="215.7" y2="1023.8" stroke="#1a1a1a" stroke-width="1.5"/>
<line x1="269.1" y1="1019.3" x2="269.1" y2="1023.8" stroke="#1a1a1a" stroke-width="1.5"/>
<line x1="322.8" y1="1019.3" x2="322.8" y2="1023.8" stroke="#1a1a1a" stroke-width="1.5"/>
<line x1="107.9" y1="920.4" x2="107.9" y2="924.9" stroke="#d83c50" stroke-width="1.3"/>
<line x1="103.9" y1="920.4" x2="111.9" y2="920.4" stroke="#d83c50" stroke-width="1.3"/>
<line x1="103.9" y1="924.9" x2="111.9" y2="924.9" stroke="#d83c50" stroke-width="1.3"/>
<line x1="107.9" y1="928.6" x2="107.9" y2="935.6" stroke="#100aa8" stroke-width="1.5"/>
<line x1="103.9" y1="928.6" x2="111.9" y2="928.6" stroke="#100aa8" stroke-width="1.5"/>
<line x1="103.9" y1="935.6" x2="111.9" y2="935.6" stroke="#100aa8" stroke-width="1.5"/>
<line x1="161.8" y1="944.2" x2="161.8" y2="949.5" stroke="#d83c50" stroke-width="1.3"/>
<line x1="157.8" y1="944.2" x2="165.8" y2="944.2" stroke="#d83c50" stroke-width="1.3"/>
<line x1="157.8" y1="949.5" x2="165.8" y2="949.5" stroke="#d83c50" stroke-width="1.3"/>
<line x1="161.8" y1="961.9" x2="161.8" y2="968" stroke="#100aa8" stroke-width="1.5"/>
<line x1="157.8" y1="961.9" x2="165.8" y2="961.9" stroke="#100aa8" stroke-width="1.5"/>
<line x1="157.8" y1="968" x2="165.8" y2="968" stroke="#100aa8" stroke-width="1.5"/>
<line x1="215.7" y1="966.5" x2="215.7" y2="969.8" stroke="#d83c50" stroke-width="1.3"/>
<line x1="211.7" y1="966.5" x2="219.7" y2="966.5" stroke="#d83c50" stroke-width="1.3"/>
<line x1="211.7" y1="969.8" x2="219.7" y2="969.8" stroke="#d83c50" stroke-width="1.3"/>
<line x1="215.7" y1="975.3" x2="215.7" y2="979" stroke="#100aa8" stroke-width="1.5"/>
<line x1="211.7" y1="975.3" x2="219.7" y2="975.3" stroke="#100aa8" stroke-width="1.5"/>
<line x1="211.7" y1="979" x2="219.7" y2="979" stroke="#100aa8" stroke-width="1.5"/>
<line x1="269.1" y1="980" x2="269.1" y2="983.6" stroke="#d83c50" stroke-width="1.3"/>
<line x1="265.1" y1="980" x2="273.1" y2="980" stroke="#d83c50" stroke-width="1.3"/>
<line x1="265.1" y1="983.6" x2="273.1" y2="983.6" stroke="#d83c50" stroke-width="1.3"/>
<line x1="269.1" y1="990.6" x2="269.1" y2="998" stroke="#100aa8" stroke-width="1.5"/>
<line x1="265.1" y1="990.6" x2="273.1" y2="990.6" stroke="#100aa8" stroke-width="1.5"/>
<line x1="265.1" y1="998" x2="273.1" y2="998" stroke="#100aa8" stroke-width="1.5"/>
<line x1="322.8" y1="992.5" x2="322.8" y2="996.1" stroke="#d83c50" stroke-width="1.3"/>
<line x1="318.8" y1="992.5" x2="326.8" y2="992.5" stroke="#d83c50" stroke-width="1.3"/>
<line x1="318.8" y1="996.1" x2="326.8" y2="996.1" stroke="#d83c50" stroke-width="1.3"/>
<line x1="322.8" y1="1004.8" x2="322.8" y2="1011.8" stroke="#100aa8" stroke-width="1.5"/>
<line x1="318.8" y1="1004.8" x2="326.8" y2="1004.8" stroke="#100aa8" stroke-width="1.5"/>
<line x1="318.8" y1="1011.8" x2="326.8" y2="1011.8" stroke="#100aa8" stroke-width="1.5"/>
<polyline points="107.9,924.9 161.8,949.5 215.7,969.8 269.1,983.6 322.8,996.1" fill="none" stroke="#e86464" stroke-width="1.3"/>
<polyline points="107.9,928.6 161.8,961.9 215.7,975.3 269.1,990.6 322.8,1004.8" fill="none" stroke="#2a3a9a" stroke-width="1.6" stroke-dasharray="3 2.5"/>
<rect x="103.9" y="920.9" width="8" height="8" fill="#ee4848"/>
<circle cx="107.9" cy="928.6" r="3.9" fill="#1212b0"/>
<rect x="157.8" y="945.5" width="8" height="8" fill="#ee4848"/>
<circle cx="161.8" cy="961.9" r="3.9" fill="#1212b0"/>
<rect x="211.7" y="965.8" width="8" height="8" fill="#ee4848"/>
<circle cx="215.7" cy="975.3" r="3.9" fill="#1212b0"/>
<rect x="265.1" y="979.6" width="8" height="8" fill="#ee4848"/>
<circle cx="269.1" cy="990.6" r="3.9" fill="#1212b0"/>
<rect x="318.8" y="992.1" width="8" height="8" fill="#ee4848"/>
<circle cx="322.8" cy="1004.8" r="3.9" fill="#1212b0"/>
<text x="155.70000000000002" y="949.37" font-size="23" text-anchor="middle" fill="#111" font-weight="bold">*</text>
<text x="166.9" y="949.37" font-size="23" text-anchor="middle" fill="#111" font-weight="bold">*</text>
<text x="215.6" y="973.27" font-size="23" text-anchor="middle" fill="#111" font-weight="bold">*</text>
<text x="264.29999999999995" y="986.87" font-size="23" text-anchor="middle" fill="#111" font-weight="bold">*</text>
<text x="275.5" y="986.87" font-size="23" text-anchor="middle" fill="#111" font-weight="bold">*</text>
<text x="316.9" y="998.17" font-size="23" text-anchor="middle" fill="#111" font-weight="bold">*</text>
<text x="328.1" y="998.17" font-size="23" text-anchor="middle" fill="#111" font-weight="bold">*</text>
<text x="48" y="945" font-size="13" text-anchor="middle" fill="#111" transform="rotate(-90 48 945)" >Neurologic Deficit Score</text>
<text x="107.9" y="1038.5" font-size="13.8" text-anchor="middle" fill="#111" font-weight="normal" >Day 1</text>
<text x="161.8" y="1038.5" font-size="13.8" text-anchor="middle" fill="#111" font-weight="normal" >Day 3</text>
<text x="215.7" y="1038.5" font-size="13.8" text-anchor="middle" fill="#111" font-weight="normal" >Day 7</text>
<text x="269.1" y="1038.5" font-size="13.8" text-anchor="middle" fill="#111" font-weight="normal" >Day 14</text>
<text x="322.8" y="1038.5" font-size="13.8" text-anchor="middle" fill="#111" font-weight="normal" >Day 28</text>
<circle cx="279.1" cy="880" r="3.9" fill="#1212b0"/>
<text x="288.6" y="883.8" font-size="10.5" text-anchor="start" fill="#222" font-weight="normal" >Sham + ICH</text>
<rect x="275.9" y="892.9" width="8" height="8" fill="#ee4848"/>
<text x="288.6" y="900.7" font-size="10.5" text-anchor="start" fill="#222" font-weight="normal" >Vagotomy + ICH</text>
<line x1="458.9" y1="877.5" x2="458.9" y2="1014.3" stroke="#1a1a1a" stroke-width="1.5"/>
<line x1="455.29999999999995" y1="1014.3" x2="458.9" y2="1014.3" stroke="#1a1a1a" stroke-width="1.5"/>
<text x="454.29999999999995" y="1019.5" font-size="14.6" text-anchor="end" fill="#111" font-weight="normal" >60</text>
<line x1="455.29999999999995" y1="991.5" x2="458.9" y2="991.5" stroke="#1a1a1a" stroke-width="1.5"/>
<text x="454.29999999999995" y="996.7" font-size="14.6" text-anchor="end" fill="#111" font-weight="normal" >70</text>
<line x1="455.29999999999995" y1="968.7" x2="458.9" y2="968.7" stroke="#1a1a1a" stroke-width="1.5"/>
<text x="454.29999999999995" y="973.9000000000001" font-size="14.6" text-anchor="end" fill="#111" font-weight="normal" >80</text>
<line x1="455.29999999999995" y1="945.9" x2="458.9" y2="945.9" stroke="#1a1a1a" stroke-width="1.5"/>
<text x="454.29999999999995" y="951.1" font-size="14.6" text-anchor="end" fill="#111" font-weight="normal" >90</text>
<line x1="455.29999999999995" y1="923.1" x2="458.9" y2="923.1" stroke="#1a1a1a" stroke-width="1.5"/>
<text x="454.29999999999995" y="928.3000000000001" font-size="14.6" text-anchor="end" fill="#111" font-weight="normal" >100</text>
<line x1="455.29999999999995" y1="900.3" x2="458.9" y2="900.3" stroke="#1a1a1a" stroke-width="1.5"/>
<text x="454.29999999999995" y="905.5" font-size="14.6" text-anchor="end" fill="#111" font-weight="normal" >110</text>
<line x1="455.29999999999995" y1="877.5" x2="458.9" y2="877.5" stroke="#1a1a1a" stroke-width="1.5"/>
<text x="454.29999999999995" y="882.7" font-size="14.6" text-anchor="end" fill="#111" font-weight="normal" >120</text>
<line x1="458.9" y1="1014.3" x2="733.6" y2="1014.3" stroke="#1a1a1a" stroke-width="1.5"/>
<line x1="493.1" y1="1014.3" x2="493.1" y2="1018.8" stroke="#1a1a1a" stroke-width="1.5"/>
<line x1="545" y1="1014.3" x2="545" y2="1018.8" stroke="#1a1a1a" stroke-width="1.5"/>
<line x1="596.1" y1="1014.3" x2="596.1" y2="1018.8" stroke="#1a1a1a" stroke-width="1.5"/>
<line x1="648" y1="1014.3" x2="648" y2="1018.8" stroke="#1a1a1a" stroke-width="1.5"/>
<line x1="699" y1="1014.3" x2="699" y2="1018.8" stroke="#1a1a1a" stroke-width="1.5"/>
<line x1="596.1" y1="918.3" x2="596.1" y2="925.3" stroke="#d83c50" stroke-width="1.3"/>
<line x1="592.1" y1="918.3" x2="600.1" y2="918.3" stroke="#d83c50" stroke-width="1.3"/>
<line x1="592.1" y1="925.3" x2="600.1" y2="925.3" stroke="#d83c50" stroke-width="1.3"/>
<line x1="596.1" y1="934.6" x2="596.1" y2="946.7" stroke="#100aa8" stroke-width="1.5"/>
<line x1="592.1" y1="934.6" x2="600.1" y2="934.6" stroke="#100aa8" stroke-width="1.5"/>
<line x1="592.1" y1="946.7" x2="600.1" y2="946.7" stroke="#100aa8" stroke-width="1.5"/>
<line x1="648" y1="926.6" x2="648" y2="943.4" stroke="#d83c50" stroke-width="1.3"/>
<line x1="644" y1="926.6" x2="652" y2="926.6" stroke="#d83c50" stroke-width="1.3"/>
<line x1="644" y1="943.4" x2="652" y2="943.4" stroke="#d83c50" stroke-width="1.3"/>
<line x1="648" y1="955" x2="648" y2="976.8" stroke="#100aa8" stroke-width="1.5"/>
<line x1="644" y1="955" x2="652" y2="955" stroke="#100aa8" stroke-width="1.5"/>
<line x1="644" y1="976.8" x2="652" y2="976.8" stroke="#100aa8" stroke-width="1.5"/>
<line x1="699" y1="931.1" x2="699" y2="948.4" stroke="#d83c50" stroke-width="1.3"/>
<line x1="695" y1="931.1" x2="703" y2="931.1" stroke="#d83c50" stroke-width="1.3"/>
<line x1="695" y1="948.4" x2="703" y2="948.4" stroke="#d83c50" stroke-width="1.3"/>
<line x1="699" y1="975.5" x2="699" y2="1001.9" stroke="#100aa8" stroke-width="1.5"/>
<line x1="695" y1="975.5" x2="703" y2="975.5" stroke="#100aa8" stroke-width="1.5"/>
<line x1="695" y1="1001.9" x2="703" y2="1001.9" stroke="#100aa8" stroke-width="1.5"/>
<polyline points="493.1,923.1 545,923.1 596.1,925.3 648,943.4 699,948.4" fill="none" stroke="#e86464" stroke-width="1.3"/>
<polyline points="493.1,923.1 545,923.1 596.1,934.6 648,955 699,975.5" fill="none" stroke="#2a3a9a" stroke-width="1.6" stroke-dasharray="3 2.5"/>
<rect x="489.1" y="919.1" width="8" height="8" fill="#ee4848"/>
<rect x="489.1" y="919.1" width="8" height="8" fill="#1212b0"/>
<rect x="541" y="919.1" width="8" height="8" fill="#ee4848"/>
<rect x="541" y="919.1" width="8" height="8" fill="#1212b0"/>
<rect x="592.1" y="921.3" width="8" height="8" fill="#ee4848"/>
<circle cx="596.1" cy="934.6" r="3.9" fill="#1212b0"/>
<rect x="644" y="939.4" width="8" height="8" fill="#ee4848"/>
<circle cx="648" cy="955" r="3.9" fill="#1212b0"/>
<rect x="695" y="944.4" width="8" height="8" fill="#ee4848"/>
<circle cx="699" cy="975.5" r="3.9" fill="#1212b0"/>
<text x="596.5" y="924.87" font-size="23" text-anchor="middle" fill="#111" font-weight="bold">*</text>
<text x="694" y="937.47" font-size="23" text-anchor="middle" fill="#111" font-weight="bold">*</text>
<text x="705.2" y="937.47" font-size="23" text-anchor="middle" fill="#111" font-weight="bold">*</text>
<text x="427" y="940.6" font-size="15" text-anchor="middle" fill="#111" transform="rotate(-90 427 940.6)" >Left turn (%)</text>
<text x="493.1" y="1032.3" font-size="14" text-anchor="middle" fill="#111" font-weight="normal" >Day 1</text>
<text x="545" y="1032.3" font-size="14" text-anchor="middle" fill="#111" font-weight="normal" >Day 3</text>
<text x="596.1" y="1032.3" font-size="14" text-anchor="middle" fill="#111" font-weight="normal" >Day 7</text>
<text x="648" y="1032.3" font-size="14" text-anchor="middle" fill="#111" font-weight="normal" >Day 14</text>
<text x="699" y="1032.3" font-size="14" text-anchor="middle" fill="#111" font-weight="normal" >Day 28</text>
<circle cx="648.8" cy="875.1" r="3.9" fill="#1212b0"/>
<text x="658.8" y="879" font-size="10.5" text-anchor="start" fill="#222" font-weight="normal" >Sham + ICH</text>
<rect x="645.3" y="887.5" width="8" height="8" fill="#ee4848"/>
<text x="658.8" y="895.3" font-size="10.5" text-anchor="start" fill="#222" font-weight="normal" >Vagotomy + ICH</text>
<rect x="425.7" y="286.6" width="332.5" height="97.3" fill="#fff" stroke="#5a7cc0" stroke-width="1.2"/>
<text transform="translate(647.6 338.6) scale(1 1.08)" font-size="13.2" fill="#2a2a2a">Residual lesion</text>
<text transform="translate(647.6 360.9) scale(1 1.08)" font-size="13.2" fill="#2a2a2a">Selected fields</text>
<ellipse cx="636.5" cy="334.2" rx="3.7" ry="6" fill="#e89a30"/>
<circle cx="636.3" cy="357.2" r="1.9" fill="none" stroke="#9aa6c8" stroke-width="1.1"/>
<clipPath id="ca1"><path d="M112.0 50.2 C116.1 50.2 120.9 49.0 127.1 49.4 C133.3 49.8 142.8 50.7 149.2 52.7 C155.6 54.7 161.2 57.9 165.8 61.6 C170.4 65.3 174.0 70.2 176.8 74.8 C179.6 79.4 181.5 84.0 182.4 89.2 C183.3 94.4 183.3 100.6 182.4 105.8 C181.5 111.0 179.6 115.6 176.8 120.2 C174.0 124.8 170.0 129.7 165.8 133.4 C161.6 137.1 156.0 140.5 151.4 142.3 C146.8 144.2 142.2 144.5 138.2 144.5 C134.1 144.5 131.2 144.2 127.1 142.3 C123.0 140.5 116.6 135.4 113.8 133.4 C111.0 131.4 111.3 130.2 110.0 130.5 C108.7 130.8 108.0 133.4 106.0 135.0 C104.0 136.6 101.2 138.7 98.0 140.0 C94.8 141.3 91.8 142.3 87.0 142.8 C82.2 143.3 74.1 143.9 69.3 142.8 C64.5 141.8 61.5 139.3 57.9 136.5 C54.3 133.7 50.3 130.1 47.5 126.1 C44.7 122.1 42.7 117.8 41.2 112.6 C39.7 107.4 38.6 99.8 38.3 95.0 C38.0 90.2 38.0 88.9 39.5 84.0 C41.0 79.1 44.1 70.5 47.5 65.8 C50.9 61.0 55.1 57.9 60.0 55.5 C64.8 53.1 69.5 52.2 76.6 51.2 C83.7 50.2 96.7 49.4 102.6 49.2 C108.5 49.0 107.9 50.2 112.0 50.2 Z"/></clipPath>
<path d="M112.0 50.2 C116.1 50.2 120.9 49.0 127.1 49.4 C133.3 49.8 142.8 50.7 149.2 52.7 C155.6 54.7 161.2 57.9 165.8 61.6 C170.4 65.3 174.0 70.2 176.8 74.8 C179.6 79.4 181.5 84.0 182.4 89.2 C183.3 94.4 183.3 100.6 182.4 105.8 C181.5 111.0 179.6 115.6 176.8 120.2 C174.0 124.8 170.0 129.7 165.8 133.4 C161.6 137.1 156.0 140.5 151.4 142.3 C146.8 144.2 142.2 144.5 138.2 144.5 C134.1 144.5 131.2 144.2 127.1 142.3 C123.0 140.5 116.6 135.4 113.8 133.4 C111.0 131.4 111.3 130.2 110.0 130.5 C108.7 130.8 108.0 133.4 106.0 135.0 C104.0 136.6 101.2 138.7 98.0 140.0 C94.8 141.3 91.8 142.3 87.0 142.8 C82.2 143.3 74.1 143.9 69.3 142.8 C64.5 141.8 61.5 139.3 57.9 136.5 C54.3 133.7 50.3 130.1 47.5 126.1 C44.7 122.1 42.7 117.8 41.2 112.6 C39.7 107.4 38.6 99.8 38.3 95.0 C38.0 90.2 38.0 88.9 39.5 84.0 C41.0 79.1 44.1 70.5 47.5 65.8 C50.9 61.0 55.1 57.9 60.0 55.5 C64.8 53.1 69.5 52.2 76.6 51.2 C83.7 50.2 96.7 49.4 102.6 49.2 C108.5 49.0 107.9 50.2 112.0 50.2 Z" fill="#bec6ec" stroke="#aeb6e4" stroke-width="1.2" filter="url(#tex)"/>
<g clip-path="url(#ca1)" filter="url(#blur2)">
<ellipse cx="82" cy="100" rx="30" ry="30" fill="#c4caee" opacity="0.5"/>
<ellipse cx="142" cy="100" rx="26" ry="30" fill="#bac4ea" opacity="0.4"/>
<ellipse cx="110" cy="102" rx="9" ry="22" fill="#c8ccef" opacity="0.9"/>
</g>
<path d="M108.5 51 L112.5 51 L112 70 L109 70Z" fill="#d8def5"/>
<path d="M86 69.5 Q111 79 134 71" fill="none" stroke="#d4daf4" stroke-width="2.2"/>
<path d="M90.5 70.8 L103.5 75.5 L98.5 86 Z" fill="#f6f7fd"/>
<path d="M116.5 72 L131.5 72.5 L127.5 103.6 L124 87 Z" fill="#f6f7fd"/>
<ellipse cx="100" cy="114" rx="3.6" ry="1.6" fill="#8ec4ec"/>
<ellipse cx="120.5" cy="114" rx="3.6" ry="1.6" fill="#8ec4ec"/>
<path d="M39 86 Q38 95 40 106 L44 106 Q42 95 43 86Z" fill="#b4d2ee" opacity="0.7"/>
<path d="M54.8 89.7 C56.3 88.5 59.6 89.0 62.0 88.7 C64.4 88.4 67.2 88.7 69.3 87.7 C71.4 86.8 72.2 83.5 74.5 83.0 C76.8 82.5 80.3 83.5 82.9 84.5 C85.5 85.5 88.7 86.6 90.1 88.7 C91.5 90.8 91.5 93.9 91.2 97.0 C90.9 100.1 90.0 104.8 88.1 107.4 C86.2 110.0 82.1 112.2 79.7 112.6 C77.3 112.9 75.2 110.5 73.5 109.5 C71.8 108.5 70.5 106.2 69.3 106.4 C68.1 106.6 67.8 110.2 66.2 110.5 C64.7 110.8 61.9 109.7 60.0 108.5 C58.1 107.3 55.9 105.4 54.8 103.3 C53.7 101.2 53.2 98.3 53.2 96.0 C53.2 93.7 53.3 90.9 54.8 89.7 Z" fill="#eef3ee" stroke="#4e5a66" stroke-width="0.9" stroke-dasharray="1.2 0.6"/>
<path d="M41.8 94.2 H47 V92.7 L50 95.3 L47 97.89999999999999 V96.39999999999999 H41.8Z" fill="#e0102a"/>
<clipPath id="ca2"><path d="M259.1 46.8 C263.4 46.3 284.0 48.9 288.2 50.4 C292.4 51.9 289.7 58.0 290.3 58.0 C290.9 58.0 288.5 51.3 292.4 50.4 C296.3 49.5 313.0 49.7 319.4 51.4 C325.8 53.1 335.8 58.9 340.2 62.9 C344.6 66.9 350.8 76.6 352.7 81.6 C354.6 86.6 355.3 95.3 354.8 100.3 C354.3 105.3 351.4 114.8 348.6 119.0 C345.8 123.2 336.8 128.5 334.0 131.6 C331.2 134.7 330.6 140.3 327.8 142.0 C325.0 143.7 316.5 145.1 313.2 144.5 C309.9 143.9 305.6 139.0 302.8 137.8 C300.0 136.6 294.6 136.3 292.4 135.7 C290.2 135.1 288.0 133.3 286.1 133.6 C284.2 133.9 280.8 136.4 277.8 137.8 C274.8 139.2 267.5 143.9 263.3 144.3 C259.1 144.7 251.0 142.8 246.6 140.5 C242.2 138.2 233.9 131.6 230.0 127.4 C226.1 123.2 219.9 113.4 217.5 108.7 C215.1 104.0 212.3 97.6 212.3 92.0 C212.3 86.4 214.3 71.7 217.5 67.0 C220.7 62.3 231.1 58.3 236.2 56.6 C241.3 54.9 252.9 55.3 256.0 54.0 C259.1 52.7 254.8 47.3 259.1 46.8 Z"/></clipPath>
<path d="M259.1 46.8 C263.4 46.3 284.0 48.9 288.2 50.4 C292.4 51.9 289.7 58.0 290.3 58.0 C290.9 58.0 288.5 51.3 292.4 50.4 C296.3 49.5 313.0 49.7 319.4 51.4 C325.8 53.1 335.8 58.9 340.2 62.9 C344.6 66.9 350.8 76.6 352.7 81.6 C354.6 86.6 355.3 95.3 354.8 100.3 C354.3 105.3 351.4 114.8 348.6 119.0 C345.8 123.2 336.8 128.5 334.0 131.6 C331.2 134.7 330.6 140.3 327.8 142.0 C325.0 143.7 316.5 145.1 313.2 144.5 C309.9 143.9 305.6 139.0 302.8 137.8 C300.0 136.6 294.6 136.3 292.4 135.7 C290.2 135.1 288.0 133.3 286.1 133.6 C284.2 133.9 280.8 136.4 277.8 137.8 C274.8 139.2 267.5 143.9 263.3 144.3 C259.1 144.7 251.0 142.8 246.6 140.5 C242.2 138.2 233.9 131.6 230.0 127.4 C226.1 123.2 219.9 113.4 217.5 108.7 C215.1 104.0 212.3 97.6 212.3 92.0 C212.3 86.4 214.3 71.7 217.5 67.0 C220.7 62.3 231.1 58.3 236.2 56.6 C241.3 54.9 252.9 55.3 256.0 54.0 C259.1 52.7 254.8 47.3 259.1 46.8 Z" fill="#bcc2ea" stroke="#a8b0e0" stroke-width="1.2" filter="url(#tex)"/>
<g clip-path="url(#ca2)" filter="url(#blur2)">
<ellipse cx="240" cy="95" rx="32" ry="45" fill="#c2c2ec" opacity="0.5"/>
<ellipse cx="325" cy="100" rx="28" ry="40" fill="#b6c0e8" opacity="0.45"/>
</g>
<path d="M288.2 50.4 L292.4 50.4 L291.5 67 L289 67Z" fill="#e0e4f6"/>
<path d="M300.7 71.2 L310 73.3 L304.9 102.4 L303 88 Z" fill="#f4f6fc"/>
<path d="M230.0 81.6 C231.7 76.8 233.5 73.3 238.3 71.2 C243.2 69.1 253.6 68.0 259.1 69.1 C264.7 70.1 269.5 73.0 271.6 77.5 C273.7 82.0 272.7 91.4 271.6 96.2 C270.6 101.0 268.8 103.8 265.3 106.6 C261.8 109.4 255.7 112.1 250.8 112.8 C246.0 113.5 240.0 112.8 236.2 110.7 C232.4 108.6 228.9 105.2 227.9 100.3 C226.9 95.4 228.3 86.4 230.0 81.6 Z" fill="#eef4f2" stroke="#5d7a80" stroke-width="1.4" stroke-dasharray="1.3 0.7"/>
<path d="M234.0 83.0 C235.7 79.0 237.0 76.7 241.0 75.0 C245.0 73.3 253.5 72.2 258.0 73.0 C262.5 73.8 266.3 76.3 268.0 80.0 C269.7 83.7 269.0 91.0 268.0 95.0 C267.0 99.0 265.0 101.7 262.0 104.0 C259.0 106.3 254.0 108.5 250.0 109.0 C246.0 109.5 241.2 108.7 238.0 107.0 C234.8 105.3 231.7 103.0 231.0 99.0 C230.3 95.0 232.3 87.0 234.0 83.0 Z" fill="none" stroke="#b4ccd4" stroke-width="2.2" filter="url(#blur1)"/>
<path d="M217.7 91.7 H223 V90.2 L226 92.8 L223 95.39999999999999 V93.89999999999999 H217.7Z" fill="#e0102a"/>
<line x1="343" y1="145.6" x2="363" y2="145.6" stroke="#1a1a1a" stroke-width="1.6"/>
<clipPath id="ce1"><path d="M110.0 506.0 C111.7 506.0 113.5 504.1 116.6 503.8 C119.7 503.5 128.8 503.3 133.2 503.8 C137.6 504.3 145.6 505.9 149.7 507.2 C153.8 508.5 160.8 511.6 164.1 513.8 C167.4 516.0 172.2 520.6 174.1 523.7 C176.0 526.8 177.8 533.5 178.5 537.0 C179.2 540.5 179.8 546.3 179.6 550.3 C179.4 554.3 178.6 563.5 177.0 567.0 C175.4 570.5 170.2 574.3 167.4 576.5 C164.6 578.7 158.5 581.4 156.0 583.5 C153.5 585.6 151.3 590.7 149.0 592.3 C146.7 593.9 141.6 595.5 138.7 595.6 C135.8 595.7 130.3 594.6 127.6 593.4 C124.9 592.2 121.0 587.9 118.8 586.7 C116.6 585.5 112.8 583.9 111.0 584.5 C109.2 585.1 107.9 589.8 105.2 591.2 C102.5 592.6 94.6 594.6 90.8 595.0 C87.0 595.4 80.1 595.3 76.4 594.5 C72.7 593.7 65.6 590.5 63.2 589.0 C60.8 587.5 60.6 584.7 58.7 583.4 C56.8 582.1 51.2 580.8 48.8 579.0 C46.4 577.2 42.5 573.1 41.0 570.2 C39.5 567.3 38.0 560.7 37.7 556.9 C37.4 553.1 37.6 545.5 38.8 541.4 C40.0 537.3 44.1 529.4 46.6 526.0 C49.1 522.6 53.9 518.2 57.6 516.0 C61.3 513.8 69.8 511.0 74.2 509.4 C78.6 507.8 86.8 504.5 90.8 503.8 C94.8 503.1 101.4 503.5 104.0 503.8 C106.6 504.1 108.3 506.0 110.0 506.0 Z"/></clipPath>
<path d="M110.0 506.0 C111.7 506.0 113.5 504.1 116.6 503.8 C119.7 503.5 128.8 503.3 133.2 503.8 C137.6 504.3 145.6 505.9 149.7 507.2 C153.8 508.5 160.8 511.6 164.1 513.8 C167.4 516.0 172.2 520.6 174.1 523.7 C176.0 526.8 177.8 533.5 178.5 537.0 C179.2 540.5 179.8 546.3 179.6 550.3 C179.4 554.3 178.6 563.5 177.0 567.0 C175.4 570.5 170.2 574.3 167.4 576.5 C164.6 578.7 158.5 581.4 156.0 583.5 C153.5 585.6 151.3 590.7 149.0 592.3 C146.7 593.9 141.6 595.5 138.7 595.6 C135.8 595.7 130.3 594.6 127.6 593.4 C124.9 592.2 121.0 587.9 118.8 586.7 C116.6 585.5 112.8 583.9 111.0 584.5 C109.2 585.1 107.9 589.8 105.2 591.2 C102.5 592.6 94.6 594.6 90.8 595.0 C87.0 595.4 80.1 595.3 76.4 594.5 C72.7 593.7 65.6 590.5 63.2 589.0 C60.8 587.5 60.6 584.7 58.7 583.4 C56.8 582.1 51.2 580.8 48.8 579.0 C46.4 577.2 42.5 573.1 41.0 570.2 C39.5 567.3 38.0 560.7 37.7 556.9 C37.4 553.1 37.6 545.5 38.8 541.4 C40.0 537.3 44.1 529.4 46.6 526.0 C49.1 522.6 53.9 518.2 57.6 516.0 C61.3 513.8 69.8 511.0 74.2 509.4 C78.6 507.8 86.8 504.5 90.8 503.8 C94.8 503.1 101.4 503.5 104.0 503.8 C106.6 504.1 108.3 506.0 110.0 506.0 Z" fill="#bcdcf1" stroke="#9ccdec" stroke-width="1.4" filter="url(#tex)"/>
<g clip-path="url(#ce1)" filter="url(#blur2)">
<ellipse cx="78" cy="560" rx="26" ry="24" fill="#c8e0f4" opacity="0.7"/>
<ellipse cx="142" cy="558" rx="26" ry="24" fill="#c8e0f4" opacity="0.7"/>
<ellipse cx="108" cy="562" rx="13" ry="22" fill="#d4e2f4" opacity="0.9"/>
</g>
<path d="M72 530 Q92 522 109 533 Q126 522 146 530" fill="none" stroke="#d2e8f6" stroke-width="4.5"/>
<path d="M72 530 Q92 522 109 533 Q126 522 146 530" fill="none" stroke="#a8d2ee" stroke-width="1.2"/>
<path d="M107.5 505 L111.5 505 L111 528 L108 528Z" fill="#d8ebf6"/>
<path d="M88.6 532.5 L100 535.5 L91.6 550.7 Z" fill="#f7fbfd"/>
<path d="M117 533.5 L122.8 533 L121.8 545 Z" fill="#f7fbfd"/>
<path d="M52.7 537.6 H58.5 V536.1 L61.5 538.7 L58.5 541.3000000000001 V539.8000000000001 H52.7Z" fill="#e0102a"/>
<ellipse cx="71.3" cy="538.9" rx="5.6" ry="2.6" fill="#dfe4f2" stroke="#8c84a8" stroke-width="1"/>
<clipPath id="ce2"><path d="M285.0 502.7 C289.1 502.6 296.4 501.3 301.6 501.6 C306.8 501.9 318.5 503.5 323.7 505.0 C328.9 506.5 336.6 510.2 340.3 512.7 C344.0 515.2 349.1 520.5 351.3 523.7 C353.5 526.9 355.9 533.8 356.8 537.0 C357.7 540.2 358.4 544.5 358.0 548.0 C357.6 551.5 355.3 560.2 353.5 563.5 C351.7 566.8 347.2 570.5 344.7 572.4 C342.2 574.3 336.5 576.1 334.7 577.9 C332.9 579.7 333.2 583.7 331.4 585.6 C329.6 587.5 324.7 591.4 321.5 592.3 C318.3 593.2 309.9 592.6 307.1 592.3 C304.3 592.0 301.7 591.2 300.5 590.0 C299.3 588.8 299.8 584.7 298.3 583.4 C296.8 582.1 291.2 580.7 289.4 580.1 C287.6 579.5 286.5 578.6 285.0 579.0 C283.5 579.4 279.7 581.9 278.5 583.4 C277.3 584.9 278.4 588.8 276.3 590.0 C274.2 591.2 266.5 592.3 263.0 592.3 C259.5 592.3 252.4 591.2 249.8 590.0 C247.2 588.8 245.6 585.3 243.2 583.4 C240.8 581.5 234.8 577.9 232.1 575.7 C229.4 573.5 225.2 569.3 223.3 566.8 C221.4 564.3 218.6 560.3 217.7 556.9 C216.8 553.5 216.0 545.5 216.6 541.4 C217.2 537.3 220.1 529.7 222.2 526.0 C224.3 522.3 228.6 516.5 232.1 513.8 C235.6 511.1 243.5 507.5 248.7 506.0 C253.9 504.5 266.0 503.1 270.8 502.7 C275.6 502.3 280.9 502.8 285.0 502.7 Z"/></clipPath>
<path d="M285.0 502.7 C289.1 502.6 296.4 501.3 301.6 501.6 C306.8 501.9 318.5 503.5 323.7 505.0 C328.9 506.5 336.6 510.2 340.3 512.7 C344.0 515.2 349.1 520.5 351.3 523.7 C353.5 526.9 355.9 533.8 356.8 537.0 C357.7 540.2 358.4 544.5 358.0 548.0 C357.6 551.5 355.3 560.2 353.5 563.5 C351.7 566.8 347.2 570.5 344.7 572.4 C342.2 574.3 336.5 576.1 334.7 577.9 C332.9 579.7 333.2 583.7 331.4 585.6 C329.6 587.5 324.7 591.4 321.5 592.3 C318.3 593.2 309.9 592.6 307.1 592.3 C304.3 592.0 301.7 591.2 300.5 590.0 C299.3 588.8 299.8 584.7 298.3 583.4 C296.8 582.1 291.2 580.7 289.4 580.1 C287.6 579.5 286.5 578.6 285.0 579.0 C283.5 579.4 279.7 581.9 278.5 583.4 C277.3 584.9 278.4 588.8 276.3 590.0 C274.2 591.2 266.5 592.3 263.0 592.3 C259.5 592.3 252.4 591.2 249.8 590.0 C247.2 588.8 245.6 585.3 243.2 583.4 C240.8 581.5 234.8 577.9 232.1 575.7 C229.4 573.5 225.2 569.3 223.3 566.8 C221.4 564.3 218.6 560.3 217.7 556.9 C216.8 553.5 216.0 545.5 216.6 541.4 C217.2 537.3 220.1 529.7 222.2 526.0 C224.3 522.3 228.6 516.5 232.1 513.8 C235.6 511.1 243.5 507.5 248.7 506.0 C253.9 504.5 266.0 503.1 270.8 502.7 C275.6 502.3 280.9 502.8 285.0 502.7 Z" fill="#bcdcf1" stroke="#9ccdec" stroke-width="1.4" filter="url(#tex)"/>
<g clip-path="url(#ce2)" filter="url(#blur2)">
<ellipse cx="287" cy="558" rx="14" ry="21" fill="#d0e2f4" opacity="0.9"/>
<ellipse cx="245" cy="560" rx="20" ry="22" fill="#c8e0f4" opacity="0.6"/>
<ellipse cx="325" cy="555" rx="22" ry="24" fill="#c8e0f4" opacity="0.6"/>
</g>
<path d="M260.0 524.0 C261.3 522.4 267.9 520.9 270.3 521.0 C272.7 521.1 280.2 523.4 280.7 525.2 C281.2 527.0 275.6 533.1 274.5 536.6 C273.4 540.1 272.6 554.3 271.4 555.3 C270.2 556.3 265.5 547.3 264.1 544.9 C262.7 542.5 260.0 536.9 259.5 534.5 C259.0 532.1 258.7 525.6 260.0 524.0 Z" fill="#f7fbfd"/>
<path d="M296.3 526.2 C297.3 524.7 306.7 522.6 307.8 524.1 C308.9 525.6 306.2 535.3 305.7 538.7 C305.2 542.1 304.3 553.5 303.6 553.3 C302.9 553.1 300.4 539.8 299.5 536.6 C298.6 533.4 295.3 527.7 296.3 526.2 Z" fill="#f7fbfd"/>
<ellipse cx="287.5" cy="556" rx="13" ry="21" fill="none" stroke="#b0d6ee" stroke-width="1" opacity="0.7"/>
<ellipse cx="272" cy="562" rx="2.5" ry="2" fill="#98c8e0"/><ellipse cx="303" cy="562" rx="2.5" ry="2" fill="#98c8e0"/>
<path d="M233.8 543.9 H240.2 V542.4 L243.2 545 L240.2 547.6 V546.1 H233.8Z" fill="#e0102a"/>
<ellipse cx="252" cy="545.3" rx="4.2" ry="3.3" transform="rotate(35 252 545.3)" fill="#e6e8f2" stroke="#7c7a98" stroke-width="1"/>
<line x1="345.5" y1="597.3" x2="366.2" y2="597.3" stroke="#1a1a1a" stroke-width="1.6"/>
<path d="M504.7 296.5 C507.8 296.5 511.4 293.6 515.0 293.0 C518.6 292.4 523.3 291.7 528.8 292.7 C534.3 293.7 545.9 296.1 551.6 299.4 C557.3 302.7 563.8 309.5 566.8 314.6 C569.8 319.7 571.5 328.2 571.5 333.6 C571.5 339.0 569.5 346.4 566.8 350.7 C564.1 355.0 557.8 359.2 553.5 362.0 C549.2 364.8 543.1 367.6 538.3 369.6 C533.5 371.6 525.7 374.9 521.2 375.3 C516.7 375.7 510.5 373.4 508.0 372.5 C505.5 371.6 505.4 369.4 504.5 369.5 C503.6 369.6 504.8 372.5 502.2 373.4 C499.6 374.3 491.9 375.9 487.1 375.3 C482.3 374.7 475.1 371.7 470.0 369.6 C464.9 367.5 457.2 364.2 452.9 361.1 C448.6 358.0 443.9 352.9 441.5 348.8 C439.1 344.7 436.7 338.7 436.7 333.6 C436.7 328.5 438.5 319.7 441.5 314.6 C444.5 309.5 451.0 302.7 456.7 299.4 C462.4 296.1 473.9 293.7 479.5 292.7 C485.1 291.7 490.2 292.4 494.0 293.0 C497.8 293.6 501.6 296.5 504.7 296.5 Z" fill="#dfc1c1" stroke="#cda7a7" stroke-width="1"/>
<path d="M453 352 Q452 322 478 314 Q495 309 505 316 Q515 309 532 314 Q558 322 556 352 Q540 372 505 372 Q470 372 453 352Z" fill="#e6cece" filter="url(#blur1)"/>
<path d="M453 350 Q452 322 478 314 Q495 309 505 316 Q515 309 532 314 Q558 322 556 350" fill="none" stroke="#efdddd" stroke-width="2"/>
<path d="M505 322 L514 334 L505 350 L496 334Z" fill="#e6cccc"/>
<path d="M485.2 315.5 L493.7 317 L490 330 L488 343 L486 330Z" fill="#fff"/>
<path d="M516.5 316.5 L524 315.5 L522 330 L520.3 343 L518 330Z" fill="#fff"/>
<ellipse cx="489" cy="351.6" rx="3.5" ry="2" fill="#ecd8d8"/>
<ellipse cx="515.5" cy="351.6" rx="3.5" ry="2" fill="#ecd8d8"/>
<ellipse cx="472.8" cy="334.5" rx="3.8" ry="5.7" fill="#e89a2a"/>
<circle cx="472.4" cy="326" r="1.7" fill="#fff" stroke="#9aa8d0" stroke-width="0.9"/>
<circle cx="465.8" cy="334.5" r="1.7" fill="#fff" stroke="#9aa8d0" stroke-width="0.9"/>
<circle cx="479.5" cy="334.5" r="1.7" fill="#fff" stroke="#9aa8d0" stroke-width="0.9"/>
<circle cx="472.4" cy="344.6" r="1.7" fill="#fff" stroke="#9aa8d0" stroke-width="0.9"/>
<clipPath id="c1"><rect x="426" y="452.8" width="164" height="163"/></clipPath><clipPath id="c2"><rect x="597.2" y="452.3" width="164" height="164"/></clipPath>
<g clip-path="url(#c1)"><rect x="426" y="452.8" width="164" height="163" fill="#dfe6f0" filter="url(#tex)"/>
<g filter="url(#blob)">
<ellipse cx="448.4" cy="470.1" rx="5.3" ry="3.8" transform="rotate(-3 448.4 470.1)" fill="#5ac2ec" opacity="0.88"/>
<ellipse cx="461.2" cy="467.4" rx="4" ry="4" transform="rotate(3 461.2 467.4)" fill="#5ac2ec" opacity="0.92"/>
<ellipse cx="475.5" cy="466.9" rx="4.7" ry="6" transform="rotate(3 475.5 466.9)" fill="#5ac2ec" opacity="0.90"/>
<ellipse cx="488.9" cy="479.7" rx="7.5" ry="9" transform="rotate(-11 488.9 479.7)" fill="#5ac2ec" opacity="0.73"/>
<ellipse cx="533.7" cy="466.5" rx="6.4" ry="3.8" transform="rotate(-6 533.7 466.5)" fill="#5ac2ec" opacity="0.96"/>
<ellipse cx="559.9" cy="490.4" rx="8.5" ry="11.7" transform="rotate(-22 559.9 490.4)" fill="#5ac2ec" opacity="0.95"/>
<ellipse cx="429.2" cy="479.7" rx="3" ry="6" transform="rotate(-18 429.2 479.7)" fill="#5ac2ec" opacity="0.84"/>
<ellipse cx="471.9" cy="504.2" rx="8.5" ry="8.5" transform="rotate(-8 471.9 504.2)" fill="#5ac2ec" opacity="0.86"/>
<ellipse cx="499.6" cy="505.3" rx="7.5" ry="6.4" transform="rotate(-18 499.6 505.3)" fill="#5ac2ec" opacity="0.72"/>
<ellipse cx="525.2" cy="496.8" rx="6" ry="10.7" transform="rotate(2 525.2 496.8)" fill="#5ac2ec" opacity="0.79"/>
<ellipse cx="583.8" cy="497.9" rx="5.3" ry="6.4" transform="rotate(-20 583.8 497.9)" fill="#5ac2ec" opacity="0.91"/>
<ellipse cx="444.1" cy="539.4" rx="6.2" ry="6.2" transform="rotate(-21 444.1 539.4)" fill="#5ac2ec" opacity="0.92"/>
<ellipse cx="469.7" cy="545.8" rx="6.4" ry="7.5" transform="rotate(-21 469.7 545.8)" fill="#5ac2ec" opacity="0.87"/>
<ellipse cx="492.1" cy="536.2" rx="5.3" ry="7.5" transform="rotate(1 492.1 536.2)" fill="#5ac2ec" opacity="0.72"/>
<ellipse cx="507" cy="539.4" rx="3.2" ry="4.3" transform="rotate(-19 507 539.4)" fill="#5ac2ec" opacity="0.77"/>
<ellipse cx="545.4" cy="541.6" rx="9.6" ry="12.8" transform="rotate(1 545.4 541.6)" fill="#5ac2ec" opacity="0.97"/>
<ellipse cx="523" cy="560.8" rx="6.4" ry="11.7" transform="rotate(4 523 560.8)" fill="#5ac2ec" opacity="0.79"/>
<ellipse cx="572.1" cy="554.4" rx="5.3" ry="6.4" transform="rotate(-5 572.1 554.4)" fill="#5ac2ec" opacity="0.85"/>
<ellipse cx="434.5" cy="565" rx="5.3" ry="6.4" transform="rotate(3 434.5 565)" fill="#5ac2ec" opacity="0.77"/>
<ellipse cx="452.7" cy="576.8" rx="6.4" ry="8.5" transform="rotate(4 452.7 576.8)" fill="#5ac2ec" opacity="0.89"/>
<ellipse cx="468.7" cy="575.7" rx="5.3" ry="6.4" transform="rotate(-16 468.7 575.7)" fill="#5ac2ec" opacity="0.94"/>
<ellipse cx="504.9" cy="573.6" rx="9.6" ry="7.5" transform="rotate(-20 504.9 573.6)" fill="#5ac2ec" opacity="0.81"/>
<ellipse cx="566.8" cy="571.4" rx="6" ry="8.1" transform="rotate(-23 566.8 571.4)" fill="#5ac2ec" opacity="0.76"/>
<ellipse cx="485.7" cy="582.1" rx="4.7" ry="5.3" transform="rotate(-7 485.7 582.1)" fill="#5ac2ec" opacity="0.80"/>
<ellipse cx="480.4" cy="605.5" rx="6.4" ry="5.3" transform="rotate(-5 480.4 605.5)" fill="#5ac2ec" opacity="0.72"/>
<ellipse cx="502.8" cy="602.4" rx="5.3" ry="5.3" transform="rotate(-16 502.8 602.4)" fill="#5ac2ec" opacity="0.80"/>
<ellipse cx="536.9" cy="590.6" rx="6.4" ry="6.4" transform="rotate(-11 536.9 590.6)" fill="#5ac2ec" opacity="0.92"/>
<ellipse cx="566.8" cy="608.7" rx="8.5" ry="6.4" transform="rotate(-11 566.8 608.7)" fill="#5ac2ec" opacity="0.80"/>
<ellipse cx="471.9" cy="599.2" rx="4.3" ry="4.3" transform="rotate(-23 471.9 599.2)" fill="#5ac2ec" opacity="0.90"/>
<ellipse cx="549.7" cy="601.3" rx="4.3" ry="5.3" transform="rotate(-24 549.7 601.3)" fill="#5ac2ec" opacity="0.96"/>
</g>
<ellipse cx="441" cy="503" rx="13" ry="12" fill="#a4c6dc" opacity="0.6" filter="url(#blur2)"/>
<ellipse cx="453.7" cy="488.3" rx="5" ry="4" fill="#8ccbec" opacity="0.5" filter="url(#blur1)"/>
<ellipse cx="483.6" cy="525.6" rx="4" ry="4" fill="#8ccbec" opacity="0.5" filter="url(#blur1)"/>
<ellipse cx="554" cy="509.6" rx="4" ry="3" fill="#8ccbec" opacity="0.5" filter="url(#blur1)"/>
<ellipse cx="507" cy="554.4" rx="3" ry="3" fill="#8ccbec" opacity="0.5" filter="url(#blur1)"/>
<ellipse cx="551.8" cy="584.2" rx="4" ry="4" fill="#8ccbec" opacity="0.5" filter="url(#blur1)"/>
<ellipse cx="443" cy="601.3" rx="4" ry="3" fill="#8ccbec" opacity="0.5" filter="url(#blur1)"/>
<ellipse cx="575.3" cy="590.6" rx="3" ry="4" fill="#8ccbec" opacity="0.5" filter="url(#blur1)"/>
</g>
<g clip-path="url(#c2)"><rect x="597.2" y="452.3" width="164" height="164" fill="#dfe6f0" filter="url(#tex)"/>
<g filter="url(#blob)">
<ellipse cx="609.8" cy="476.5" rx="4.7" ry="4.3" transform="rotate(-3 609.8 476.5)" fill="#5ac2ec" opacity="0.88"/>
<ellipse cx="640.7" cy="489.3" rx="6.4" ry="6.8" transform="rotate(3 640.7 489.3)" fill="#5ac2ec" opacity="0.92"/>
<ellipse cx="667.4" cy="490.4" rx="5.3" ry="4.7" transform="rotate(3 667.4 490.4)" fill="#5ac2ec" opacity="0.90"/>
<ellipse cx="681.2" cy="496.8" rx="9.6" ry="7.5" transform="rotate(-11 681.2 496.8)" fill="#5ac2ec" opacity="0.73"/>
<ellipse cx="718.6" cy="479.7" rx="5.3" ry="5.3" transform="rotate(-6 718.6 479.7)" fill="#5ac2ec" opacity="0.96"/>
<ellipse cx="619.4" cy="491.5" rx="3.2" ry="3.2" transform="rotate(-22 619.4 491.5)" fill="#5ac2ec" opacity="0.95"/>
<ellipse cx="617.3" cy="514.9" rx="5.3" ry="4.3" transform="rotate(-18 617.3 514.9)" fill="#5ac2ec" opacity="0.84"/>
<ellipse cx="609.8" cy="523.4" rx="6.4" ry="4.7" transform="rotate(-8 609.8 523.4)" fill="#5ac2ec" opacity="0.86"/>
<ellipse cx="604.5" cy="534.1" rx="3.8" ry="5.3" transform="rotate(-18 604.5 534.1)" fill="#5ac2ec" opacity="0.72"/>
<ellipse cx="636.5" cy="510.6" rx="4.3" ry="4.3" transform="rotate(2 636.5 510.6)" fill="#5ac2ec" opacity="0.79"/>
<ellipse cx="658.8" cy="513.8" rx="3.2" ry="3.2" transform="rotate(-20 658.8 513.8)" fill="#5ac2ec" opacity="0.91"/>
<ellipse cx="677" cy="528.8" rx="9.6" ry="7.5" transform="rotate(-21 677 528.8)" fill="#5ac2ec" opacity="0.92"/>
<ellipse cx="699.4" cy="520.2" rx="6.8" ry="8.5" transform="rotate(-21 699.4 520.2)" fill="#5ac2ec" opacity="0.87"/>
<ellipse cx="722.8" cy="517" rx="5.3" ry="4.3" transform="rotate(1 722.8 517)" fill="#5ac2ec" opacity="0.72"/>
<ellipse cx="738.8" cy="529.8" rx="6.4" ry="4.3" transform="rotate(-19 738.8 529.8)" fill="#5ac2ec" opacity="0.77"/>
<ellipse cx="638.6" cy="541.6" rx="7.5" ry="6.4" transform="rotate(1 638.6 541.6)" fill="#5ac2ec" opacity="0.97"/>
<ellipse cx="611.9" cy="551.2" rx="7.5" ry="9.6" transform="rotate(4 611.9 551.2)" fill="#5ac2ec" opacity="0.79"/>
<ellipse cx="639.7" cy="557.6" rx="11.7" ry="8.5" transform="rotate(-5 639.7 557.6)" fill="#5ac2ec" opacity="0.85"/>
<ellipse cx="663.1" cy="557.6" rx="10.7" ry="9.6" transform="rotate(3 663.1 557.6)" fill="#5ac2ec" opacity="0.77"/>
<ellipse cx="688.7" cy="559.7" rx="4.7" ry="6.4" transform="rotate(4 688.7 559.7)" fill="#5ac2ec" opacity="0.89"/>
<ellipse cx="702.6" cy="551.2" rx="4.3" ry="3.8" transform="rotate(-16 702.6 551.2)" fill="#5ac2ec" opacity="0.94"/>
<ellipse cx="715.4" cy="556.5" rx="5.3" ry="5.3" transform="rotate(-20 715.4 556.5)" fill="#5ac2ec" opacity="0.81"/>
<ellipse cx="749.5" cy="545.8" rx="11.7" ry="8.5" transform="rotate(-23 749.5 545.8)" fill="#5ac2ec" opacity="0.76"/>
<ellipse cx="632.2" cy="586.4" rx="12.8" ry="9.6" transform="rotate(-7 632.2 586.4)" fill="#5ac2ec" opacity="0.80"/>
<ellipse cx="668.4" cy="581" rx="9.6" ry="6.4" transform="rotate(-5 668.4 581)" fill="#5ac2ec" opacity="0.72"/>
<ellipse cx="720.7" cy="576.8" rx="5.3" ry="6.8" transform="rotate(-16 720.7 576.8)" fill="#5ac2ec" opacity="0.80"/>
<ellipse cx="734.6" cy="577.8" rx="3.8" ry="4.7" transform="rotate(-11 734.6 577.8)" fill="#5ac2ec" opacity="0.92"/>
<ellipse cx="695.1" cy="582.1" rx="4.7" ry="4.3" transform="rotate(-11 695.1 582.1)" fill="#5ac2ec" opacity="0.80"/>
<ellipse cx="705.8" cy="593.8" rx="8.5" ry="6.4" transform="rotate(-23 705.8 593.8)" fill="#5ac2ec" opacity="0.90"/>
<ellipse cx="671.6" cy="605.5" rx="8.5" ry="4.3" transform="rotate(-24 671.6 605.5)" fill="#5ac2ec" opacity="0.96"/>
<ellipse cx="686.6" cy="604.5" rx="5.3" ry="4.3" transform="rotate(0 686.6 604.5)" fill="#5ac2ec" opacity="0.91"/>
<ellipse cx="606.6" cy="457.3" rx="5.3" ry="3.8" transform="rotate(-1 606.6 457.3)" fill="#5ac2ec" opacity="0.72"/>
<ellipse cx="638.6" cy="457.3" rx="6.4" ry="4.3" transform="rotate(-8 638.6 457.3)" fill="#5ac2ec" opacity="0.81"/>
<ellipse cx="684.4" cy="457.3" rx="5.3" ry="3.2" transform="rotate(-24 684.4 457.3)" fill="#5ac2ec" opacity="0.72"/>
<ellipse cx="665.2" cy="477.6" rx="5.3" ry="3.2" transform="rotate(4 665.2 477.6)" fill="#5ac2ec" opacity="0.77"/>
<ellipse cx="710" cy="496.8" rx="4.3" ry="4.3" transform="rotate(-2 710 496.8)" fill="#5ac2ec" opacity="0.77"/>
<ellipse cx="742" cy="484" rx="3.8" ry="4.7" transform="rotate(3 742 484)" fill="#5ac2ec" opacity="0.95"/>
<ellipse cx="707.9" cy="567.2" rx="4.3" ry="3.8" transform="rotate(-14 707.9 567.2)" fill="#5ac2ec" opacity="0.81"/>
<ellipse cx="606.6" cy="607.7" rx="3.2" ry="3.2" transform="rotate(-2 606.6 607.7)" fill="#5ac2ec" opacity="0.85"/>
<ellipse cx="652.4" cy="573.6" rx="3.8" ry="3.8" transform="rotate(-3 652.4 573.6)" fill="#5ac2ec" opacity="0.75"/>
</g>
</g>
<line x1="720" y1="597.8" x2="747.5" y2="597.8" stroke="#222" stroke-width="1.8"/>
</svg></body></html>
